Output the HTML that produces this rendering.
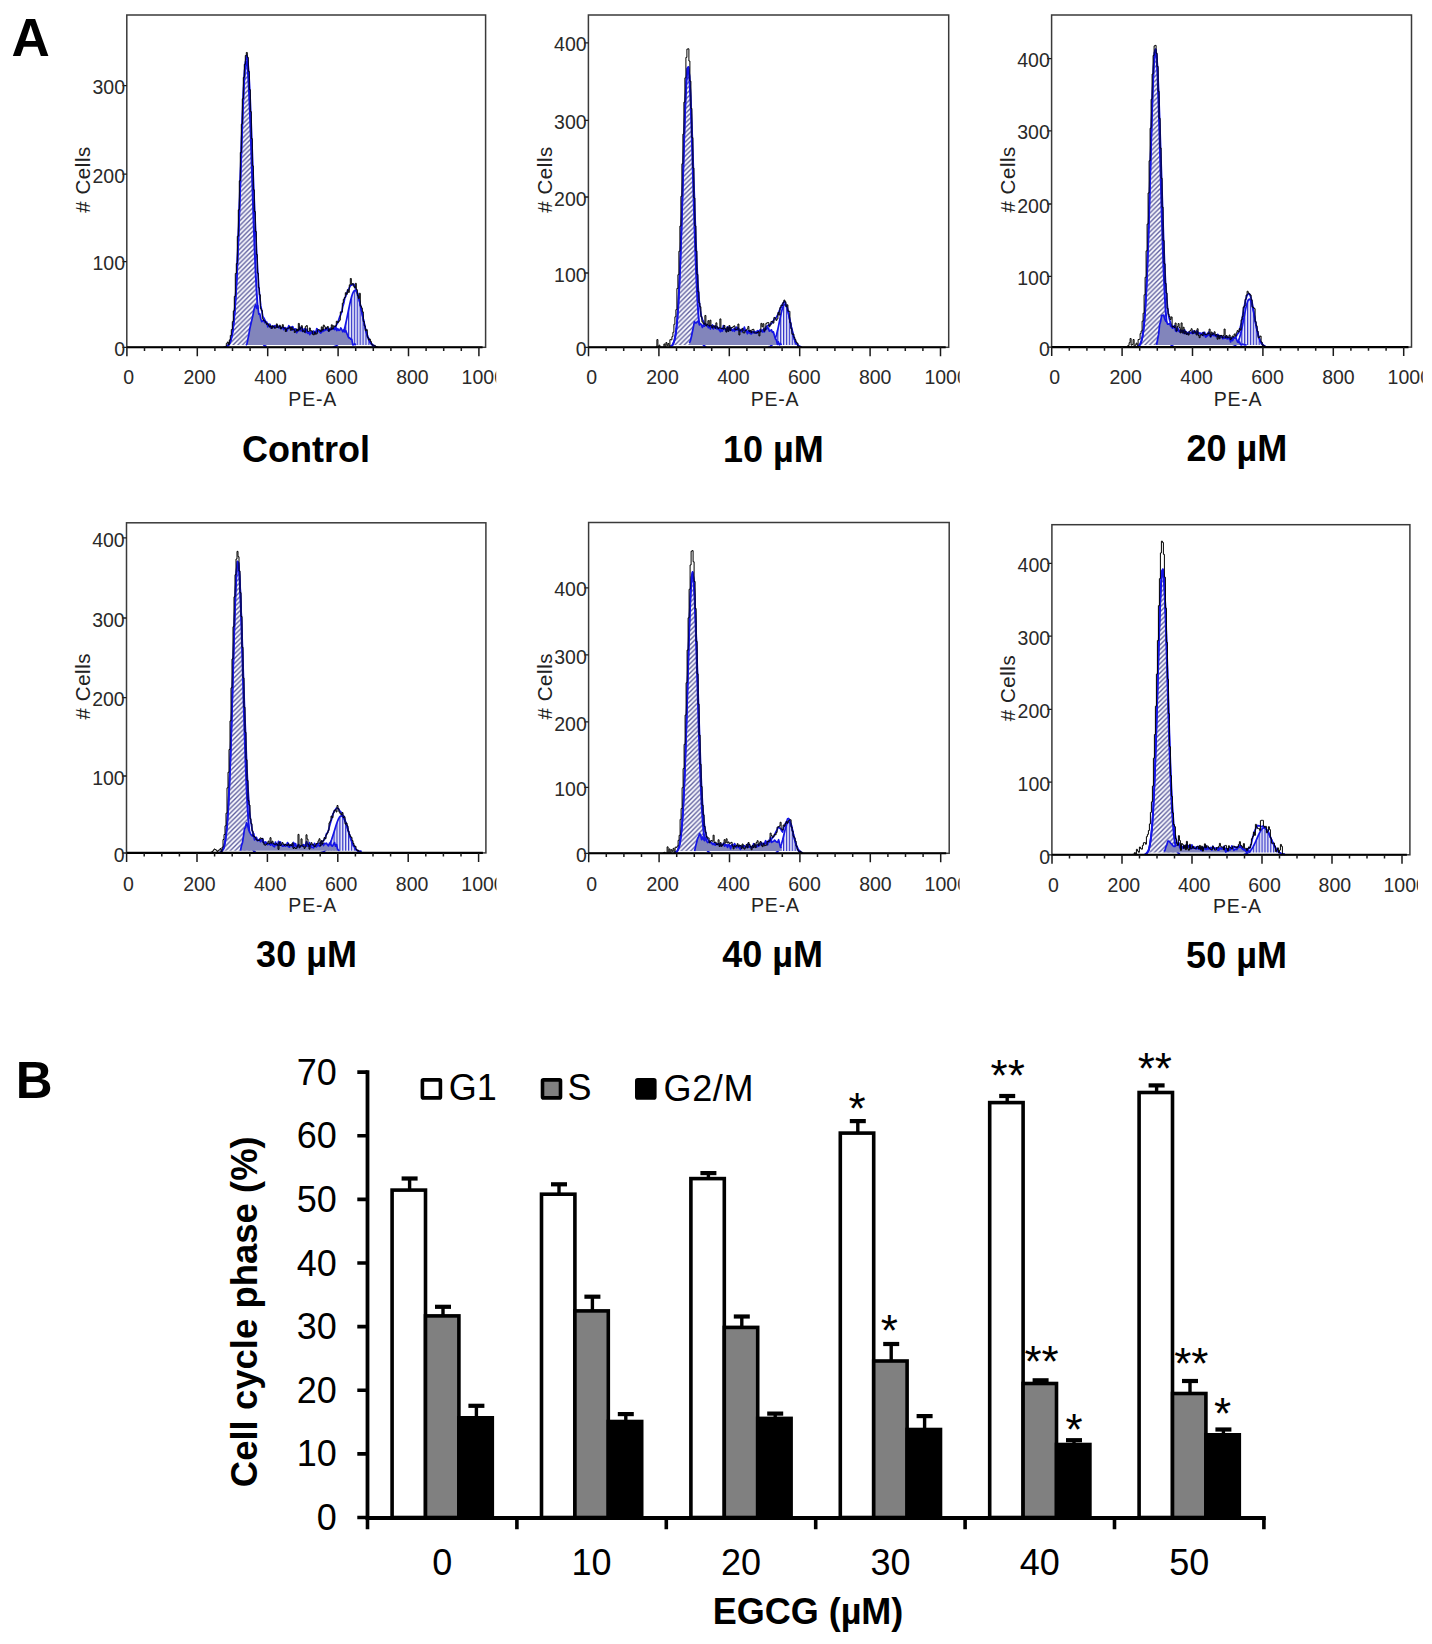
<!DOCTYPE html><html><head><meta charset="utf-8"><style>html,body{margin:0;padding:0;background:#fff;}svg{display:block;}</style></head><body>
<svg width="1432" height="1644" viewBox="0 0 1432 1644" font-family='"Liberation Sans", sans-serif'>
<defs><pattern id="pd" patternUnits="userSpaceOnUse" width="4.7" height="4.7"><rect width="4.7" height="4.7" fill="#fafaff"/><path d="M-1 5.7L5.7 -1M-1 1L1 -1M3.7 5.7L5.7 3.7" stroke="#5c5c9c" stroke-width="1.35"/></pattern><pattern id="pv" patternUnits="userSpaceOnUse" width="2.9" height="10"><rect width="2.9" height="10" fill="#eef0fb"/><rect x="0" width="1.25" height="10" fill="#3434c8"/></pattern></defs>
<rect width="1432" height="1644" fill="#fff"/>
<text x="11.6" y="56.3" font-size="53" font-weight="bold" fill="#000">A</text>
<text x="15.8" y="1098.4" font-size="51" font-weight="bold" fill="#000">B</text>
<clipPath id="cl0"><rect x="66.8" y="10" width="429.4" height="412.3"/></clipPath>
<clipPath id="cp0"><rect x="126.8" y="15" width="358.8" height="332.3"/></clipPath>
<rect x="126.8" y="15" width="358.8" height="332.3" fill="none" stroke="#3a3a3a" stroke-width="1.5"/>
<path d="M225.8 345.1L225.8 345.1L226.8 345.1L227.8 345.1L228.8 344.72L229.8 342.95L230.8 340.19L231.8 336.01L232.8 329.93L233.8 321.38L234.8 309.8L235.8 294.7L236.8 275.74L237.8 252.89L238.8 226.54L239.8 197.5L240.8 167.12L241.8 137.14L242.8 109.61L243.8 86.62L244.8 70.07L245.8 61.4L246.8 61.4L247.8 70.07L248.8 86.62L249.8 109.61L250.8 137.14L251.8 167.12L252.8 197.5L253.8 226.54L254.8 252.89L255.8 275.74L256.8 294.7L257.8 309.8L258.8 321.38L259.8 329.93L260.8 336.01L261.8 340.19L262.8 342.95L263.8 344.72L264.8 345.1L265.8 345.1L266.8 345.1L266.8 345.1Z" fill="url(#pd)"/>
<path d="M225.8 346.85L226.8 346.47L227.8 345.82L228.8 344.72L229.8 342.95L230.8 340.19L231.8 336.01L232.8 329.93L233.8 321.38L234.8 309.8L235.8 294.7L236.8 275.74L237.8 252.89L238.8 226.54L239.8 197.5L240.8 167.12L241.8 137.14L242.8 109.61L243.8 86.62L244.8 70.07L245.8 61.4L246.8 61.4L247.8 70.07L248.8 86.62L249.8 109.61L250.8 137.14L251.8 167.12L252.8 197.5L253.8 226.54L254.8 252.89L255.8 275.74L256.8 294.7L257.8 309.8L258.8 321.38L259.8 329.93L260.8 336.01L261.8 340.19L262.8 342.95L263.8 344.72L264.8 345.82L265.8 346.47L266.8 346.85" fill="none" stroke="#1414e6" stroke-width="2.0" stroke-linejoin="round"/>
<path d="M332.8 345.1L332.8 345.1L333.8 345.1L334.8 345.1L335.8 345.1L336.8 345.1L337.8 344.51L338.8 343.38L339.8 341.9L340.8 340.02L341.8 337.67L342.8 334.82L343.8 331.45L344.8 327.58L345.8 323.27L346.8 318.6L347.8 313.72L348.8 308.79L349.8 304.04L350.8 299.69L351.8 295.96L352.8 293.05L353.8 291.13L354.8 290.32L355.8 290.67L356.8 292.15L357.8 294.68L358.8 298.11L359.8 302.24L360.8 306.86L361.8 311.74L362.8 316.66L363.8 321.44L364.8 325.91L365.8 329.96L366.8 333.53L367.8 336.59L368.8 339.14L369.8 341.2L370.8 342.84L371.8 344.1L372.8 345.05L373.8 345.1L374.8 345.1L375.8 345.1L376.8 345.1L376.8 345.1Z" fill="url(#pv)"/>
<path d="M332.8 346.93L333.8 346.72L334.8 346.41L335.8 345.97L336.8 345.36L337.8 344.51L338.8 343.38L339.8 341.9L340.8 340.02L341.8 337.67L342.8 334.82L343.8 331.45L344.8 327.58L345.8 323.27L346.8 318.6L347.8 313.72L348.8 308.79L349.8 304.04L350.8 299.69L351.8 295.96L352.8 293.05L353.8 291.13L354.8 290.32L355.8 290.67L356.8 292.15L357.8 294.68L358.8 298.11L359.8 302.24L360.8 306.86L361.8 311.74L362.8 316.66L363.8 321.44L364.8 325.91L365.8 329.96L366.8 333.53L367.8 336.59L368.8 339.14L369.8 341.2L370.8 342.84L371.8 344.1L372.8 345.05L373.8 345.75L374.8 346.26L375.8 346.61L376.8 346.85" fill="none" stroke="#1414e6" stroke-width="1.7" stroke-linejoin="round"/>
<path d="M245.8 345.1L245.8 345.1L246.8 344.41L247.8 339.72L248.8 334.69L249.8 328.76L250.8 324.27L251.8 320.12L252.8 315.86L253.8 310.51L254.8 306.86L255.8 304.72L256.8 308.34L257.8 305.91L258.8 314.12L259.8 313.9L260.8 318.98L261.8 321.61L262.8 320.95L263.8 320.29L264.8 322.64L265.8 322.01L266.8 322.08L267.8 326.81L268.8 325.39L269.8 324.39L270.8 327.95L271.8 326.9L272.8 327.38L273.8 327.23L274.8 325.71L275.8 326.74L276.8 325.4L277.8 326.33L278.8 326.73L279.8 327.12L280.8 328.28L281.8 328.54L282.8 327.39L283.8 329.54L284.8 327.59L285.8 328.88L286.8 330.91L287.8 328.59L288.8 325.7L289.8 327.28L290.8 327.9L291.8 327L292.8 326.67L293.8 329.6L294.8 329.74L295.8 328.95L296.8 332.79L297.8 330.04L298.8 330.66L299.8 327.11L300.8 328.13L301.8 327.78L302.8 329.07L303.8 330.28L304.8 328.76L305.8 332.6L306.8 329.23L307.8 333.26L308.8 332.15L309.8 334.56L310.8 332.08L311.8 331.71L312.8 332.02L313.8 331.01L314.8 333.04L315.8 333.09L316.8 328.49L317.8 330.03L318.8 330.45L319.8 332.38L320.8 333.01L321.8 330.93L322.8 331.49L323.8 329.66L324.8 330.55L325.8 328.98L326.8 327.81L327.8 329.42L328.8 331.22L329.8 328.64L330.8 328.26L331.8 328.88L332.8 328.83L333.8 328.79L334.8 329.53L335.8 326.8L336.8 330.6L337.8 328.66L338.8 330.33L339.8 330.26L340.8 327.92L341.8 329.6L342.8 331.75L343.8 329.77L344.8 331.93L345.8 330.76L346.8 333.29L347.8 335.8L348.8 337.97L349.8 337.93L350.8 339.17L351.8 339.33L352.8 344.95L353.8 344.61L354.8 343.87L355.8 345.1L355.8 345.1Z" fill="#8285bb"/>
<path d="M245.8 345.1L246.8 344.41L247.8 339.72L248.8 334.69L249.8 328.76L250.8 324.27L251.8 320.12L252.8 315.86L253.8 310.51L254.8 306.86L255.8 304.72L256.8 308.34L257.8 305.91L258.8 314.12L259.8 313.9L260.8 318.98L261.8 321.61L262.8 320.95L263.8 320.29L264.8 322.64L265.8 322.01L266.8 322.08L267.8 326.81L268.8 325.39L269.8 324.39L270.8 327.95L271.8 326.9L272.8 327.38L273.8 327.23L274.8 325.71L275.8 326.74L276.8 325.4L277.8 326.33L278.8 326.73L279.8 327.12L280.8 328.28L281.8 328.54L282.8 327.39L283.8 329.54L284.8 327.59L285.8 328.88L286.8 330.91L287.8 328.59L288.8 325.7L289.8 327.28L290.8 327.9L291.8 327L292.8 326.67L293.8 329.6L294.8 329.74L295.8 328.95L296.8 332.79L297.8 330.04L298.8 330.66L299.8 327.11L300.8 328.13L301.8 327.78L302.8 329.07L303.8 330.28L304.8 328.76L305.8 332.6L306.8 329.23L307.8 333.26L308.8 332.15L309.8 334.56L310.8 332.08L311.8 331.71L312.8 332.02L313.8 331.01L314.8 333.04L315.8 333.09L316.8 328.49L317.8 330.03L318.8 330.45L319.8 332.38L320.8 333.01L321.8 330.93L322.8 331.49L323.8 329.66L324.8 330.55L325.8 328.98L326.8 327.81L327.8 329.42L328.8 331.22L329.8 328.64L330.8 328.26L331.8 328.88L332.8 328.83L333.8 328.79L334.8 329.53L335.8 326.8L336.8 330.6L337.8 328.66L338.8 330.33L339.8 330.26L340.8 327.92L341.8 329.6L342.8 331.75L343.8 329.77L344.8 331.93L345.8 330.76L346.8 333.29L347.8 335.8L348.8 337.97L349.8 337.93L350.8 339.17L351.8 339.33L352.8 344.95L353.8 344.61L354.8 343.87L355.8 345.1" fill="none" stroke="#1414e6" stroke-width="1.7" stroke-linejoin="round"/>
<path d="M225.8 346.95L226.8 346.6L227.8 345.28L228.8 344.46L229.8 342.74L230.8 340.39L231.8 335.91L232.8 330.96L233.8 321.67L234.8 309.09L235.8 294.41L236.8 276.13L237.8 253.14L238.8 227.32L239.8 198.32L240.8 167.67L241.8 136.13L242.8 110.38L243.8 86.9L244.8 70.2L245.8 60.07L246.8 55.27L247.8 60.61L248.8 72.31L249.8 89.78L250.8 113.3L251.8 139.12L252.8 165.36L253.8 189.74L254.8 212.49L255.8 233.75L256.8 255.11L257.8 271.45L258.8 286.38L259.8 297.45L260.8 305.91L261.8 310.81L262.8 316.34L263.8 317.92L264.8 319.93L265.8 321.87L266.8 323.95L267.8 324.31L268.8 325.38L269.8 324.34L270.8 326.76L271.8 327.05L272.8 325.9L273.8 326.9L274.8 326.63L275.8 326.99L276.8 326.76L277.8 326.05L278.8 327.91L279.8 326.86L280.8 327.05L281.8 327.87L282.8 327.68L283.8 328.07L284.8 327.75L285.8 328.27L286.8 328.46L287.8 328.37L288.8 328.22L289.8 328.18L290.8 328.93L291.8 329.9L292.8 329.84L293.8 329.24L294.8 329.06L295.8 329.94L296.8 329.76L297.8 330.09L298.8 330.06L299.8 330.32L300.8 330.87L301.8 329.68L302.8 331.53L303.8 331.08L304.8 331L305.8 330.62L306.8 332.14L307.8 332.23L308.8 332.31L309.8 332.47L310.8 332.5L311.8 332.96L312.8 333.46L313.8 332.88L314.8 333.14L315.8 331.33L316.8 331.98L317.8 331.18L318.8 331.13L319.8 331.38L320.8 330.37L321.8 330.45L322.8 329.6L323.8 330.44L324.8 329.49L325.8 329.34L326.8 329.77L327.8 330.07L328.8 329.39L329.8 330.05L330.8 328.6L331.8 329.02L332.8 328.85L333.8 328.08L334.8 327.39L335.8 325.88L336.8 324.36L337.8 322.59L338.8 319.41L339.8 316.52L340.8 314.56L341.8 311.74L342.8 306.45L343.8 303.18L344.8 298.03L345.8 296.38L346.8 292.77L347.8 290.5L348.8 288.91L349.8 286.82L350.8 285.05L351.8 285.11L352.8 284.4L353.8 284.27L354.8 286.1L355.8 288.87L356.8 291.18L357.8 293.8L358.8 298.35L359.8 302.2L360.8 307.84L361.8 311.7L362.8 317.22L363.8 321.44L364.8 326.62L365.8 330.38L366.8 334.1L367.8 337.18L368.8 338.75L369.8 341.99L370.8 343.71L371.8 343.9L372.8 346L373.8 345.65L374.8 347.17L375.8 346.98L376.8 347.14" fill="none" stroke="#1414e6" stroke-width="1.7" stroke-linejoin="round"/>
<path d="M223.3 347.3L223.3 347.07L224.3 347.07L224.3 346.85L225.3 346.85L225.3 346.46L226.3 346.46L226.3 343.45L227.3 343.45L227.3 342.01L228.3 342.01L228.3 344.74L229.3 344.74L229.3 339.89L230.3 339.89L230.3 335.41L231.3 335.41L231.3 329.57L232.3 329.57L232.3 321.64L233.3 321.64L233.3 310.96L234.3 310.96L234.3 296.44L235.3 296.44L235.3 273.47L236.3 273.47L236.3 263.56L237.3 263.56L237.3 236.27L238.3 236.27L238.3 209.82L239.3 209.82L239.3 180.78L240.3 180.78L240.3 152.43L241.3 152.43L241.3 124.17L242.3 124.17L242.3 98.81L243.3 98.81L243.3 77.38L244.3 77.38L244.3 64.34L245.3 64.34L245.3 55.52L246.3 55.52L246.3 52.46L247.3 52.46L247.3 57.26L248.3 57.26L248.3 71.33L249.3 71.33L249.3 89.59L250.3 89.59L250.3 111.61L251.3 111.61L251.3 138.59L252.3 138.59L252.3 165.86L253.3 165.86L253.3 189.78L254.3 189.78L254.3 211.46L255.3 211.46L255.3 231.42L256.3 231.42L256.3 254.38L257.3 254.38L257.3 273.05L258.3 273.05L258.3 287.7L259.3 287.7L259.3 294.68L260.3 294.68L260.3 308.61L261.3 308.61L261.3 310.3L262.3 310.3L262.3 318.85L263.3 318.85L263.3 320.42L264.3 320.42L264.3 321L265.3 321L265.3 322.52L266.3 322.52L266.3 324.29L267.3 324.29L267.3 323.58L268.3 323.58L268.3 325.66L269.3 325.66L269.3 327.07L270.3 327.07L270.3 325.76L271.3 325.76L271.3 328.53L272.3 328.53L272.3 325.98L273.3 325.98L273.3 326.53L274.3 326.53L274.3 328.25L275.3 328.25L275.3 327.87L276.3 327.87L276.3 323.92L277.3 323.92L277.3 327.46L278.3 327.46L278.3 326.99L279.3 326.99L279.3 325.21L280.3 325.21L280.3 328.89L281.3 328.89L281.3 327.3L282.3 327.3L282.3 324.67L283.3 324.67L283.3 327.85L284.3 327.85L284.3 328.31L285.3 328.31L285.3 331.54L286.3 331.54L286.3 328.97L287.3 328.97L287.3 328.3L288.3 328.3L288.3 328.06L289.3 328.06L289.3 326.84L290.3 326.84L290.3 330.3L291.3 330.3L291.3 327.31L292.3 327.31L292.3 329.67L293.3 329.67L293.3 329.24L294.3 329.24L294.3 332.54L295.3 332.54L295.3 331.37L296.3 331.37L296.3 329.1L297.3 329.1L297.3 331.02L298.3 331.02L298.3 323.42L299.3 323.42L299.3 329.8L300.3 329.8L300.3 328.12L301.3 328.12L301.3 325.69L302.3 325.69L302.3 331.35L303.3 331.35L303.3 330.71L304.3 330.71L304.3 332.36L305.3 332.36L305.3 326.58L306.3 326.58L306.3 325.54L307.3 325.54L307.3 331.23L308.3 331.23L308.3 331.48L309.3 331.48L309.3 327.94L310.3 327.94L310.3 331L311.3 331L311.3 330.77L312.3 330.77L312.3 334.21L313.3 334.21L313.3 334.9L314.3 334.9L314.3 331.87L315.3 331.87L315.3 334.23L316.3 334.23L316.3 333.66L317.3 333.66L317.3 330L318.3 330L318.3 329.67L319.3 329.67L319.3 330.18L320.3 330.18L320.3 331.61L321.3 331.61L321.3 326.89L322.3 326.89L322.3 330.22L323.3 330.22L323.3 325.09L324.3 325.09L324.3 326.73L325.3 326.73L325.3 329.09L326.3 329.09L326.3 328.06L327.3 328.06L327.3 326.47L328.3 326.47L328.3 331.28L329.3 331.28L329.3 329.45L330.3 329.45L330.3 329.99L331.3 329.99L331.3 324.82L332.3 324.82L332.3 328.92L333.3 328.92L333.3 325.75L334.3 325.75L334.3 326.72L335.3 326.72L335.3 326.1L336.3 326.1L336.3 321.27L337.3 321.27L337.3 322.73L338.3 322.73L338.3 321.64L339.3 321.64L339.3 320.26L340.3 320.26L340.3 311.89L341.3 311.89L341.3 312.12L342.3 312.12L342.3 303.13L343.3 303.13L343.3 299.37L344.3 299.37L344.3 297.55L345.3 297.55L345.3 292.73L346.3 292.73L346.3 294.33L347.3 294.33L347.3 289.72L348.3 289.72L348.3 292.43L349.3 292.43L349.3 284.84L350.3 284.84L350.3 278.49L351.3 278.49L351.3 284.34L352.3 284.34L352.3 283.53L353.3 283.53L353.3 286.21L354.3 286.21L354.3 287.8L355.3 287.8L355.3 283.33L356.3 283.33L356.3 289.62L357.3 289.62L357.3 295.7L358.3 295.7L358.3 298.38L359.3 298.38L359.3 293.28L360.3 293.28L360.3 306.03L361.3 306.03L361.3 307.89L362.3 307.89L362.3 311.84L363.3 311.84L363.3 321.57L364.3 321.57L364.3 325.93L365.3 325.93L365.3 330.8L366.3 330.8L366.3 329.66L367.3 329.66L367.3 337.32L368.3 337.32L368.3 339.95L369.3 339.95L369.3 339.03L370.3 339.03L370.3 341.34L371.3 341.34L371.3 344.26L372.3 344.26L372.3 345.3L373.3 345.3L373.3 345.15L374.3 345.15L374.3 345.4L375.3 345.4L375.3 346.61L376.3 346.61L376.3 346.85L377.3 346.85L377.3 347.02L378.3 347.02L378.3 347.3" fill="none" stroke="#000" stroke-width="1.0"/>
<line x1="126.8" y1="347.3" x2="482.6" y2="347.3" stroke="#000" stroke-width="2.1"/>
<path d="M126.9 347.3V356.3M144.5 347.3V350.9M162.1 347.3V350.9M179.7 347.3V350.9M197.3 347.3V356.3M214.9 347.3V350.9M232.5 347.3V350.9M250.1 347.3V350.9M267.7 347.3V356.3M285.3 347.3V350.9M302.9 347.3V350.9M320.5 347.3V350.9M338.1 347.3V356.3M355.7 347.3V350.9M373.3 347.3V350.9M390.9 347.3V350.9M408.5 347.3V356.3M426.1 347.3V350.9M443.7 347.3V350.9M461.3 347.3V350.9M478.9 347.3V356.3" stroke="#1a1a1a" stroke-width="1.5" fill="none"/>
<path d="M122.5 347.4H126.8M122.5 261.6H126.8M122.5 174.2H126.8M122.5 85.6H126.8" stroke="#1a1a1a" stroke-width="1.3" fill="none"/>
<g clip-path="url(#cl0)" font-size="19.5" fill="#2a2a2a" text-anchor="middle"><text x="128.8" y="383.9">0</text><text x="199.7" y="383.9">200</text><text x="270.6" y="383.9">400</text><text x="341.5" y="383.9">600</text><text x="412.4" y="383.9">800</text><text x="483.3" y="383.9">1000</text></g>
<g font-size="19.5" fill="#2a2a2a" text-anchor="end"><text x="125" y="356">0</text><text x="125" y="270.2">100</text><text x="125" y="182.8">200</text><text x="125" y="94.2">300</text></g>
<text x="312.7" y="405.9" font-size="19.5" letter-spacing="0.8" fill="#222" text-anchor="middle">PE-A</text>
<text transform="translate(90 179.45) rotate(-90)" font-size="20.5" letter-spacing="0.55" fill="#222" text-anchor="middle"># Cells</text>
<text x="306" y="461.6" font-size="36" font-weight="bold" fill="#000" text-anchor="middle">Control</text>
<clipPath id="cl1"><rect x="528.4" y="10" width="431.3" height="412.3"/></clipPath>
<clipPath id="cp1"><rect x="588.4" y="15" width="360.3" height="332.3"/></clipPath>
<rect x="588.4" y="15" width="360.3" height="332.3" fill="none" stroke="#3a3a3a" stroke-width="1.5"/>
<path d="M670.4 345.1L670.4 345.1L671.4 345.1L672.4 345.1L673.4 343.34L674.4 340.35L675.4 335.56L676.4 328.25L677.4 317.6L678.4 302.81L679.4 283.28L680.4 258.79L681.4 229.72L682.4 197.22L683.4 163.26L684.4 130.46L685.4 101.83L686.4 80.33L687.4 68.32L688.4 67.2L689.4 77.1L690.4 96.88L691.4 124.3L692.4 156.51L693.4 190.47L694.4 223.44L695.4 253.31L696.4 278.78L697.4 299.3L698.4 315L699.4 326.41L700.4 334.32L701.4 339.55L702.4 342.86L703.4 344.85L704.4 345.1L705.4 345.1L706.4 345.1L706.4 345.1Z" fill="url(#pd)"/>
<path d="M670.4 346.73L671.4 346.16L672.4 345.14L673.4 343.34L674.4 340.35L675.4 335.56L676.4 328.25L677.4 317.6L678.4 302.81L679.4 283.28L680.4 258.79L681.4 229.72L682.4 197.22L683.4 163.26L684.4 130.46L685.4 101.83L686.4 80.33L687.4 68.32L688.4 67.2L689.4 77.1L690.4 96.88L691.4 124.3L692.4 156.51L693.4 190.47L694.4 223.44L695.4 253.31L696.4 278.78L697.4 299.3L698.4 315L699.4 326.41L700.4 334.32L701.4 339.55L702.4 342.86L703.4 344.85L704.4 346L705.4 346.64L706.4 346.98" fill="none" stroke="#1414e6" stroke-width="2.0" stroke-linejoin="round"/>
<path d="M768.4 345.1L768.4 345.1L769.4 345.1L770.4 345.1L771.4 345.1L772.4 344.51L773.4 343.05L774.4 341.03L775.4 338.38L776.4 335.05L777.4 331.08L778.4 326.56L779.4 321.71L780.4 316.83L781.4 312.3L782.4 308.49L783.4 305.77L784.4 304.42L785.4 304.57L786.4 306.22L787.4 309.17L788.4 313.16L789.4 317.8L790.4 322.69L791.4 327.5L792.4 331.92L793.4 335.77L794.4 338.96L795.4 341.48L796.4 343.38L797.4 344.75L798.4 345.1L799.4 345.1L800.4 345.1L801.4 345.1L801.4 345.1Z" fill="url(#pv)"/>
<path d="M768.4 346.94L769.4 346.67L770.4 346.23L771.4 345.54L772.4 344.51L773.4 343.05L774.4 341.03L775.4 338.38L776.4 335.05L777.4 331.08L778.4 326.56L779.4 321.71L780.4 316.83L781.4 312.3L782.4 308.49L783.4 305.77L784.4 304.42L785.4 304.57L786.4 306.22L787.4 309.17L788.4 313.16L789.4 317.8L790.4 322.69L791.4 327.5L792.4 331.92L793.4 335.77L794.4 338.96L795.4 341.48L796.4 343.38L797.4 344.75L798.4 345.7L799.4 346.33L800.4 346.73L801.4 346.98" fill="none" stroke="#1414e6" stroke-width="1.7" stroke-linejoin="round"/>
<path d="M689.4 345.1L689.4 342.99L690.4 340.84L691.4 336.8L692.4 331.73L693.4 326.92L694.4 321.69L695.4 322.8L696.4 322.89L697.4 321.4L698.4 321.44L699.4 324.87L700.4 323.54L701.4 324.75L702.4 327.38L703.4 324.88L704.4 326.21L705.4 323.71L706.4 325.48L707.4 325.48L708.4 327.73L709.4 325.79L710.4 329.03L711.4 326.31L712.4 325.01L713.4 328.95L714.4 326.37L715.4 325.92L716.4 328.48L717.4 326.95L718.4 328.69L719.4 329.54L720.4 331.7L721.4 330.44L722.4 331.05L723.4 325.67L724.4 328.69L725.4 329.34L726.4 331.03L727.4 326.76L728.4 330.84L729.4 327.17L730.4 327.77L731.4 329.24L732.4 330.3L733.4 329.48L734.4 331.32L735.4 328.59L736.4 327.18L737.4 328.33L738.4 328.21L739.4 330.83L740.4 329.58L741.4 331.61L742.4 330.97L743.4 329.48L744.4 327.15L745.4 330.73L746.4 330.94L747.4 333.81L748.4 331.07L749.4 332.75L750.4 333.61L751.4 333.89L752.4 331.77L753.4 332.69L754.4 331.34L755.4 332.79L756.4 332.63L757.4 330.73L758.4 331.26L759.4 330.85L760.4 329.4L761.4 330.7L762.4 331.94L763.4 331.21L764.4 331.83L765.4 328.68L766.4 329.28L767.4 327.66L768.4 328.02L769.4 331.13L770.4 330.54L771.4 329.82L772.4 332.3L773.4 331.91L774.4 335.58L775.4 338.86L776.4 340.07L777.4 344.32L778.4 341.9L779.4 344.84L780.4 343.45L781.4 345.1L781.4 345.1Z" fill="#8285bb"/>
<path d="M689.4 342.99L690.4 340.84L691.4 336.8L692.4 331.73L693.4 326.92L694.4 321.69L695.4 322.8L696.4 322.89L697.4 321.4L698.4 321.44L699.4 324.87L700.4 323.54L701.4 324.75L702.4 327.38L703.4 324.88L704.4 326.21L705.4 323.71L706.4 325.48L707.4 325.48L708.4 327.73L709.4 325.79L710.4 329.03L711.4 326.31L712.4 325.01L713.4 328.95L714.4 326.37L715.4 325.92L716.4 328.48L717.4 326.95L718.4 328.69L719.4 329.54L720.4 331.7L721.4 330.44L722.4 331.05L723.4 325.67L724.4 328.69L725.4 329.34L726.4 331.03L727.4 326.76L728.4 330.84L729.4 327.17L730.4 327.77L731.4 329.24L732.4 330.3L733.4 329.48L734.4 331.32L735.4 328.59L736.4 327.18L737.4 328.33L738.4 328.21L739.4 330.83L740.4 329.58L741.4 331.61L742.4 330.97L743.4 329.48L744.4 327.15L745.4 330.73L746.4 330.94L747.4 333.81L748.4 331.07L749.4 332.75L750.4 333.61L751.4 333.89L752.4 331.77L753.4 332.69L754.4 331.34L755.4 332.79L756.4 332.63L757.4 330.73L758.4 331.26L759.4 330.85L760.4 329.4L761.4 330.7L762.4 331.94L763.4 331.21L764.4 331.83L765.4 328.68L766.4 329.28L767.4 327.66L768.4 328.02L769.4 331.13L770.4 330.54L771.4 329.82L772.4 332.3L773.4 331.91L774.4 335.58L775.4 338.86L776.4 340.07L777.4 344.32L778.4 341.9L779.4 344.84L780.4 343.45L781.4 345.1" fill="none" stroke="#1414e6" stroke-width="1.7" stroke-linejoin="round"/>
<path d="M670.4 346.66L671.4 345.99L672.4 345.24L673.4 343.15L674.4 340.73L675.4 336.1L676.4 328.96L677.4 317.88L678.4 303.23L679.4 283.16L680.4 258.97L681.4 230.05L682.4 197.59L683.4 164.22L684.4 130.65L685.4 101.63L686.4 81L687.4 68.45L688.4 66.86L689.4 75.59L690.4 90.25L691.4 113.32L692.4 139.36L693.4 169.07L694.4 197.36L695.4 226.77L696.4 252.41L697.4 274.2L698.4 290.47L699.4 302.85L700.4 310.64L701.4 316.59L702.4 319.6L703.4 321.1L704.4 324.08L705.4 324.94L706.4 324.6L707.4 324.87L708.4 325.8L709.4 325.66L710.4 326.07L711.4 326.33L712.4 326.23L713.4 327.58L714.4 327.23L715.4 327.78L716.4 328.55L717.4 328.26L718.4 329.46L719.4 329.6L720.4 328.34L721.4 329.49L722.4 328.11L723.4 328.48L724.4 329.31L725.4 329.54L726.4 330.26L727.4 329.21L728.4 330.05L729.4 328.46L730.4 330.15L731.4 329.3L732.4 330.77L733.4 329.6L734.4 328.78L735.4 329.73L736.4 329.96L737.4 329.82L738.4 329.49L739.4 329.39L740.4 330.13L741.4 331.22L742.4 330.18L743.4 330L744.4 329.49L745.4 330.74L746.4 330.9L747.4 331.43L748.4 330.93L749.4 330.58L750.4 332.15L751.4 331.77L752.4 332.5L753.4 332.48L754.4 332.39L755.4 332.21L756.4 333.05L757.4 332.93L758.4 331.67L759.4 331.63L760.4 331.04L761.4 330.67L762.4 330.4L763.4 329.45L764.4 328.66L765.4 328.07L766.4 326.5L767.4 325.91L768.4 325.22L769.4 325.17L770.4 324.02L771.4 323.65L772.4 322.2L773.4 320.83L774.4 318.92L775.4 318.41L776.4 317.42L777.4 315.51L778.4 313.67L779.4 310.54L780.4 308.35L781.4 306.94L782.4 304.22L783.4 302.88L784.4 301.26L785.4 303.25L786.4 305.39L787.4 307.93L788.4 312.71L789.4 318.21L790.4 322.42L791.4 327.8L792.4 331L793.4 336.29L794.4 339.33L795.4 342.88L796.4 343.73L797.4 343.79L798.4 345.77L799.4 346.83L800.4 346.59L801.4 347.13" fill="none" stroke="#1414e6" stroke-width="1.7" stroke-linejoin="round"/>
<path d="M655.9 347.3L655.9 346.81L656.9 346.81L656.9 339.55L657.9 339.55L657.9 346.68L658.9 346.68L658.9 345.14L659.9 345.14L659.9 347.3L660.9 347.3L660.9 347.14L661.9 347.14L661.9 347.3L662.9 347.3L662.9 347.3L663.9 347.3L663.9 343.97L664.9 343.97L664.9 346.84L665.9 346.84L665.9 342.57L666.9 342.57L666.9 345.38L667.9 345.38L667.9 343.54L668.9 343.54L668.9 346.1L669.9 346.1L669.9 339.65L670.9 339.65L670.9 339.85L671.9 339.85L671.9 336.62L672.9 336.62L672.9 332.28L673.9 332.28L673.9 324.27L674.9 324.27L674.9 316.77L675.9 316.77L675.9 309.63L676.9 309.63L676.9 288.43L677.9 288.43L677.9 274.68L678.9 274.68L678.9 251.21L679.9 251.21L679.9 226.06L680.9 226.06L680.9 196.3L681.9 196.3L681.9 163.79L682.9 163.79L682.9 134.14L683.9 134.14L683.9 102.13L684.9 102.13L684.9 77.83L685.9 77.83L685.9 57.4L686.9 57.4L686.9 49.1L687.9 49.1L687.9 48.8L688.9 48.8L688.9 61.04L689.9 61.04L689.9 81.15L690.9 81.15L690.9 108.42L691.9 108.42L691.9 137.67L692.9 137.67L692.9 168.03L693.9 168.03L693.9 198L694.9 198L694.9 225.95L695.9 225.95L695.9 251.04L696.9 251.04L696.9 274.41L697.9 274.41L697.9 291.68L698.9 291.68L698.9 303.01L699.9 303.01L699.9 306.78L700.9 306.78L700.9 316.78L701.9 316.78L701.9 321.8L702.9 321.8L702.9 323.32L703.9 323.32L703.9 324.21L704.9 324.21L704.9 315.46L705.9 315.46L705.9 325.87L706.9 325.87L706.9 324.3L707.9 324.3L707.9 320.66L708.9 320.66L708.9 326.14L709.9 326.14L709.9 320.14L710.9 320.14L710.9 325.79L711.9 325.79L711.9 328L712.9 328L712.9 325.79L713.9 325.79L713.9 326.23L714.9 326.23L714.9 328.23L715.9 328.23L715.9 322.85L716.9 322.85L716.9 327.14L717.9 327.14L717.9 328.62L718.9 328.62L718.9 327.73L719.9 327.73L719.9 318.92L720.9 318.92L720.9 328.64L721.9 328.64L721.9 328.57L722.9 328.57L722.9 329.05L723.9 329.05L723.9 325.46L724.9 325.46L724.9 328.79L725.9 328.79L725.9 332.07L726.9 332.07L726.9 327.34L727.9 327.34L727.9 331.35L728.9 331.35L728.9 325.62L729.9 325.62L729.9 330.62L730.9 330.62L730.9 327.67L731.9 327.67L731.9 327.66L732.9 327.66L732.9 326.59L733.9 326.59L733.9 325.87L734.9 325.87L734.9 329.8L735.9 329.8L735.9 329.37L736.9 329.37L736.9 329.14L737.9 329.14L737.9 324.02L738.9 324.02L738.9 334.99L739.9 334.99L739.9 330.28L740.9 330.28L740.9 329.96L741.9 329.96L741.9 328.39L742.9 328.39L742.9 332.79L743.9 332.79L743.9 332.93L744.9 332.93L744.9 330.58L745.9 330.58L745.9 329.96L746.9 329.96L746.9 328.94L747.9 328.94L747.9 326.46L748.9 326.46L748.9 331.33L749.9 331.33L749.9 330.39L750.9 330.39L750.9 332.75L751.9 332.75L751.9 329.57L752.9 329.57L752.9 329.3L753.9 329.3L753.9 332.96L754.9 332.96L754.9 332.96L755.9 332.96L755.9 332.9L756.9 332.9L756.9 332.44L757.9 332.44L757.9 331.64L758.9 331.64L758.9 335.92L759.9 335.92L759.9 331.88L760.9 331.88L760.9 323.37L761.9 323.37L761.9 326.79L762.9 326.79L762.9 323.73L763.9 323.73L763.9 331.19L764.9 331.19L764.9 329.29L765.9 329.29L765.9 323.35L766.9 323.35L766.9 322.69L767.9 322.69L767.9 322.66L768.9 322.66L768.9 326.79L769.9 326.79L769.9 325.17L770.9 325.17L770.9 321.58L771.9 321.58L771.9 321.35L772.9 321.35L772.9 323.12L773.9 323.12L773.9 317.44L774.9 317.44L774.9 318.18L775.9 318.18L775.9 320.37L776.9 320.37L776.9 318.93L777.9 318.93L777.9 312.38L778.9 312.38L778.9 315.03L779.9 315.03L779.9 307.46L780.9 307.46L780.9 305.2L781.9 305.2L781.9 305.38L782.9 305.38L782.9 302.54L783.9 302.54L783.9 300.09L784.9 300.09L784.9 301.76L785.9 301.76L785.9 306.77L786.9 306.77L786.9 304.83L787.9 304.83L787.9 311.21L788.9 311.21L788.9 311.29L789.9 311.29L789.9 322.72L790.9 322.72L790.9 328.71L791.9 328.71L791.9 334.26L792.9 334.26L792.9 334.04L793.9 334.04L793.9 337.5L794.9 337.5L794.9 339.69L795.9 339.69L795.9 342.15L796.9 342.15L796.9 343.17L797.9 343.17L797.9 346.93L798.9 346.93L798.9 346.33L799.9 346.33L799.9 346.73L800.9 346.73L800.9 346.98L801.9 346.98L801.9 347.3" fill="none" stroke="#000" stroke-width="1.0"/>
<line x1="588.4" y1="347.3" x2="945.7" y2="347.3" stroke="#000" stroke-width="2.1"/>
<path d="M588.5 347.3V356.3M606.1 347.3V350.9M623.7 347.3V350.9M641.3 347.3V350.9M658.9 347.3V356.3M676.5 347.3V350.9M694.1 347.3V350.9M711.7 347.3V350.9M729.3 347.3V356.3M746.9 347.3V350.9M764.5 347.3V350.9M782.1 347.3V350.9M799.7 347.3V356.3M817.3 347.3V350.9M834.9 347.3V350.9M852.5 347.3V350.9M870.1 347.3V356.3M887.7 347.3V350.9M905.3 347.3V350.9M922.9 347.3V350.9M940.5 347.3V356.3" stroke="#1a1a1a" stroke-width="1.5" fill="none"/>
<path d="M584.1 347.4H588.4M584.1 273H588.4M584.1 197H588.4M584.1 120.3H588.4M584.1 42.8H588.4" stroke="#1a1a1a" stroke-width="1.3" fill="none"/>
<g clip-path="url(#cl1)" font-size="19.5" fill="#2a2a2a" text-anchor="middle"><text x="591.6" y="384.2">0</text><text x="662.5" y="384.2">200</text><text x="733.4" y="384.2">400</text><text x="804.3" y="384.2">600</text><text x="875.2" y="384.2">800</text><text x="946.1" y="384.2">1000</text></g>
<g font-size="19.5" fill="#2a2a2a" text-anchor="end"><text x="586.6" y="356">0</text><text x="586.6" y="281.6">100</text><text x="586.6" y="205.6">200</text><text x="586.6" y="128.9">300</text><text x="586.6" y="51.4">400</text></g>
<text x="775.05" y="405.9" font-size="19.5" letter-spacing="0.8" fill="#222" text-anchor="middle">PE-A</text>
<text transform="translate(551.6 179.45) rotate(-90)" font-size="20.5" letter-spacing="0.55" fill="#222" text-anchor="middle"># Cells</text>
<text x="773.3" y="462.1" font-size="36" font-weight="bold" fill="#000" text-anchor="middle">10 µM</text>
<clipPath id="cl2"><rect x="991.6" y="10" width="431.2" height="412.1"/></clipPath>
<clipPath id="cp2"><rect x="1051.6" y="15" width="359.9" height="332.1"/></clipPath>
<rect x="1051.6" y="15" width="359.9" height="332.1" fill="none" stroke="#3a3a3a" stroke-width="1.5"/>
<path d="M1137.6 344.9L1137.6 344.9L1138.6 344.9L1139.6 344.9L1140.6 343.37L1141.6 340.49L1142.6 335.85L1143.6 328.7L1144.6 318.19L1145.6 303.45L1146.6 283.77L1147.6 258.84L1148.6 228.91L1149.6 195.04L1150.6 159.13L1151.6 123.85L1152.6 92.35L1153.6 67.8L1154.6 52.89L1155.6 49.34L1156.6 57.56L1157.6 76.59L1158.6 104.29L1159.6 137.69L1160.6 173.58L1161.6 208.96L1162.6 241.43L1163.6 269.44L1164.6 292.27L1165.6 309.9L1166.6 322.85L1167.6 331.92L1168.6 337.96L1169.6 341.82L1170.6 344.17L1171.6 344.9L1172.6 344.9L1173.6 344.9L1173.6 344.9Z" fill="url(#pd)"/>
<path d="M1137.6 346.57L1138.6 346.05L1139.6 345.08L1140.6 343.37L1141.6 340.49L1142.6 335.85L1143.6 328.7L1144.6 318.19L1145.6 303.45L1146.6 283.77L1147.6 258.84L1148.6 228.91L1149.6 195.04L1150.6 159.13L1151.6 123.85L1152.6 92.35L1153.6 67.8L1154.6 52.89L1155.6 49.34L1156.6 57.56L1157.6 76.59L1158.6 104.29L1159.6 137.69L1160.6 173.58L1161.6 208.96L1162.6 241.43L1163.6 269.44L1164.6 292.27L1165.6 309.9L1166.6 322.85L1167.6 331.92L1168.6 337.96L1169.6 341.82L1170.6 344.17L1171.6 345.53L1172.6 346.3L1173.6 346.7" fill="none" stroke="#1414e6" stroke-width="2.0" stroke-linejoin="round"/>
<path d="M1232.6 344.9L1232.6 344.9L1233.6 344.9L1234.6 344.9L1235.6 344.9L1236.6 344.08L1237.6 342.51L1238.6 340.36L1239.6 337.54L1240.6 333.99L1241.6 329.73L1242.6 324.87L1243.6 319.6L1244.6 314.23L1245.6 309.14L1246.6 304.74L1247.6 301.42L1248.6 299.5L1249.6 299.17L1250.6 300.47L1251.6 303.26L1252.6 307.28L1253.6 312.14L1254.6 317.45L1255.6 322.8L1256.6 327.85L1257.6 332.37L1258.6 336.21L1259.6 339.32L1260.6 341.73L1261.6 343.51L1262.6 344.79L1263.6 344.9L1264.6 344.9L1265.6 344.9L1265.6 344.9Z" fill="url(#pv)"/>
<path d="M1232.6 346.7L1233.6 346.4L1234.6 345.92L1235.6 345.18L1236.6 344.08L1237.6 342.51L1238.6 340.36L1239.6 337.54L1240.6 333.99L1241.6 329.73L1242.6 324.87L1243.6 319.6L1244.6 314.23L1245.6 309.14L1246.6 304.74L1247.6 301.42L1248.6 299.5L1249.6 299.17L1250.6 300.47L1251.6 303.26L1252.6 307.28L1253.6 312.14L1254.6 317.45L1255.6 322.8L1256.6 327.85L1257.6 332.37L1258.6 336.21L1259.6 339.32L1260.6 341.73L1261.6 343.51L1262.6 344.79L1263.6 345.66L1264.6 346.23L1265.6 346.6" fill="none" stroke="#1414e6" stroke-width="1.7" stroke-linejoin="round"/>
<path d="M1156.6 344.9L1156.6 344.9L1157.6 339.53L1158.6 334.2L1159.6 324.8L1160.6 321.62L1161.6 315.63L1162.6 315.37L1163.6 315.1L1164.6 318.46L1165.6 321L1166.6 321.7L1167.6 324.19L1168.6 324.23L1169.6 323.34L1170.6 325.86L1171.6 326.78L1172.6 328.19L1173.6 326.8L1174.6 325.68L1175.6 330.92L1176.6 331.37L1177.6 327.74L1178.6 330.14L1179.6 331.68L1180.6 331.53L1181.6 330.87L1182.6 330.44L1183.6 333.34L1184.6 329.76L1185.6 333.46L1186.6 333.18L1187.6 334.24L1188.6 333.03L1189.6 332.79L1190.6 332.75L1191.6 332.81L1192.6 331.34L1193.6 331.05L1194.6 332.45L1195.6 332.98L1196.6 330.9L1197.6 331.66L1198.6 333.32L1199.6 333.28L1200.6 333.27L1201.6 334.35L1202.6 332.69L1203.6 335.7L1204.6 332.28L1205.6 337.13L1206.6 336.47L1207.6 335.56L1208.6 332.19L1209.6 334.14L1210.6 337.05L1211.6 335.16L1212.6 333.34L1213.6 333.88L1214.6 335.04L1215.6 335.86L1216.6 336.63L1217.6 334.37L1218.6 335.66L1219.6 337.23L1220.6 336.02L1221.6 335.68L1222.6 338.55L1223.6 338.52L1224.6 338.18L1225.6 336.46L1226.6 338.49L1227.6 336.83L1228.6 338.33L1229.6 337.74L1230.6 342L1231.6 338.44L1232.6 340.62L1233.6 337.64L1234.6 337.91L1235.6 337.44L1236.6 339.38L1237.6 341.98L1238.6 342.45L1239.6 341.97L1240.6 344.62L1241.6 344.9L1242.6 344.08L1243.6 344.53L1244.6 344.9L1245.6 344.9L1246.6 344.9L1246.6 344.9Z" fill="#8285bb"/>
<path d="M1156.6 344.9L1157.6 339.53L1158.6 334.2L1159.6 324.8L1160.6 321.62L1161.6 315.63L1162.6 315.37L1163.6 315.1L1164.6 318.46L1165.6 321L1166.6 321.7L1167.6 324.19L1168.6 324.23L1169.6 323.34L1170.6 325.86L1171.6 326.78L1172.6 328.19L1173.6 326.8L1174.6 325.68L1175.6 330.92L1176.6 331.37L1177.6 327.74L1178.6 330.14L1179.6 331.68L1180.6 331.53L1181.6 330.87L1182.6 330.44L1183.6 333.34L1184.6 329.76L1185.6 333.46L1186.6 333.18L1187.6 334.24L1188.6 333.03L1189.6 332.79L1190.6 332.75L1191.6 332.81L1192.6 331.34L1193.6 331.05L1194.6 332.45L1195.6 332.98L1196.6 330.9L1197.6 331.66L1198.6 333.32L1199.6 333.28L1200.6 333.27L1201.6 334.35L1202.6 332.69L1203.6 335.7L1204.6 332.28L1205.6 337.13L1206.6 336.47L1207.6 335.56L1208.6 332.19L1209.6 334.14L1210.6 337.05L1211.6 335.16L1212.6 333.34L1213.6 333.88L1214.6 335.04L1215.6 335.86L1216.6 336.63L1217.6 334.37L1218.6 335.66L1219.6 337.23L1220.6 336.02L1221.6 335.68L1222.6 338.55L1223.6 338.52L1224.6 338.18L1225.6 336.46L1226.6 338.49L1227.6 336.83L1228.6 338.33L1229.6 337.74L1230.6 342L1231.6 338.44L1232.6 340.62L1233.6 337.64L1234.6 337.91L1235.6 337.44L1236.6 339.38L1237.6 341.98L1238.6 342.45L1239.6 341.97L1240.6 344.62L1241.6 344.9L1242.6 344.08L1243.6 344.53L1244.6 344.9L1245.6 344.9L1246.6 344.9" fill="none" stroke="#1414e6" stroke-width="1.7" stroke-linejoin="round"/>
<path d="M1137.6 346.63L1138.6 346.11L1139.6 345.39L1140.6 343.41L1141.6 340.16L1142.6 336.22L1143.6 328.92L1144.6 318.1L1145.6 302.68L1146.6 283.37L1147.6 258.96L1148.6 229.05L1149.6 195.53L1150.6 158.73L1151.6 124.38L1152.6 92.38L1153.6 67.45L1154.6 52.32L1155.6 49.26L1156.6 54.39L1157.6 67.32L1158.6 89.84L1159.6 116.77L1160.6 146.99L1161.6 176.72L1162.6 208L1163.6 238.66L1164.6 263.66L1165.6 282.73L1166.6 296.44L1167.6 308.34L1168.6 315.69L1169.6 320L1170.6 322.92L1171.6 325.68L1172.6 326.73L1173.6 326.6L1174.6 327.34L1175.6 328.72L1176.6 329.18L1177.6 329.48L1178.6 330.57L1179.6 331.36L1180.6 329.88L1181.6 331.28L1182.6 331.22L1183.6 331.12L1184.6 331.66L1185.6 331.53L1186.6 332.33L1187.6 333.21L1188.6 332.12L1189.6 332.76L1190.6 332.35L1191.6 333.06L1192.6 333.55L1193.6 332.57L1194.6 332.85L1195.6 333.03L1196.6 333.04L1197.6 333.71L1198.6 333.86L1199.6 333.04L1200.6 333.68L1201.6 333.81L1202.6 334.13L1203.6 333.5L1204.6 334.41L1205.6 334.13L1206.6 335.34L1207.6 335L1208.6 335L1209.6 334.28L1210.6 334.55L1211.6 334.73L1212.6 335.29L1213.6 335.54L1214.6 334.66L1215.6 336.37L1216.6 334.84L1217.6 335.3L1218.6 336.75L1219.6 335.7L1220.6 336.45L1221.6 337.05L1222.6 337.13L1223.6 337.61L1224.6 336.99L1225.6 337.66L1226.6 337.41L1227.6 338.88L1228.6 338.08L1229.6 338.51L1230.6 337.67L1231.6 337.82L1232.6 338.69L1233.6 337.44L1234.6 338.01L1235.6 337.64L1236.6 335.63L1237.6 333.76L1238.6 332.87L1239.6 330.25L1240.6 325.87L1241.6 322.45L1242.6 315.82L1243.6 310.05L1244.6 304.96L1245.6 299.95L1246.6 296.66L1247.6 294.7L1248.6 293.7L1249.6 294.08L1250.6 296.76L1251.6 300.15L1252.6 305.14L1253.6 310.66L1254.6 316.83L1255.6 323.17L1256.6 328.4L1257.6 332.47L1258.6 336.4L1259.6 338.99L1260.6 342.47L1261.6 342.83L1262.6 344.21L1263.6 345.5L1264.6 346.22L1265.6 345.74" fill="none" stroke="#1414e6" stroke-width="1.7" stroke-linejoin="round"/>
<path d="M1125.1 347.1L1125.1 346.86L1126.1 346.86L1126.1 346.57L1127.1 346.57L1127.1 346.11L1128.1 346.11L1128.1 345.35L1129.1 345.35L1129.1 342.71L1130.1 342.71L1130.1 338.49L1131.1 338.49L1131.1 345.12L1132.1 345.12L1132.1 344.4L1133.1 344.4L1133.1 339.5L1134.1 339.5L1134.1 347.1L1135.1 347.1L1135.1 344.96L1136.1 344.96L1136.1 343.14L1137.1 343.14L1137.1 345.22L1138.1 345.22L1138.1 339.54L1139.1 339.54L1139.1 339.25L1140.1 339.25L1140.1 333.63L1141.1 333.63L1141.1 330.97L1142.1 330.97L1142.1 321.15L1143.1 321.15L1143.1 313.22L1144.1 313.22L1144.1 294.79L1145.1 294.79L1145.1 277.31L1146.1 277.31L1146.1 250.89L1147.1 250.89L1147.1 224.09L1148.1 224.09L1148.1 192.97L1149.1 192.97L1149.1 160.76L1150.1 160.76L1150.1 128.23L1151.1 128.23L1151.1 99.26L1152.1 99.26L1152.1 74.06L1153.1 74.06L1153.1 55.42L1154.1 55.42L1154.1 45.89L1155.1 45.89L1155.1 45.38L1156.1 45.38L1156.1 53.23L1157.1 53.23L1157.1 66.38L1158.1 66.38L1158.1 91.24L1159.1 91.24L1159.1 118.24L1160.1 118.24L1160.1 147.97L1161.1 147.97L1161.1 178.21L1162.1 178.21L1162.1 207.08L1163.1 207.08L1163.1 240.56L1164.1 240.56L1164.1 263.72L1165.1 263.72L1165.1 283.35L1166.1 283.35L1166.1 293.11L1167.1 293.11L1167.1 308.4L1168.1 308.4L1168.1 314.33L1169.1 314.33L1169.1 316.5L1170.1 316.5L1170.1 319.49L1171.1 319.49L1171.1 316.93L1172.1 316.93L1172.1 326.94L1173.1 326.94L1173.1 326.53L1174.1 326.53L1174.1 327.5L1175.1 327.5L1175.1 323.02L1176.1 323.02L1176.1 331.04L1177.1 331.04L1177.1 326.6L1178.1 326.6L1178.1 323.57L1179.1 323.57L1179.1 327.55L1180.1 327.55L1180.1 332.9L1181.1 332.9L1181.1 322.91L1182.1 322.91L1182.1 333.01L1183.1 333.01L1183.1 327.26L1184.1 327.26L1184.1 333.76L1185.1 333.76L1185.1 331.31L1186.1 331.31L1186.1 334.39L1187.1 334.39L1187.1 333.17L1188.1 333.17L1188.1 335.04L1189.1 335.04L1189.1 331.33L1190.1 331.33L1190.1 330.47L1191.1 330.47L1191.1 328.76L1192.1 328.76L1192.1 333.16L1193.1 333.16L1193.1 333.12L1194.1 333.12L1194.1 330.69L1195.1 330.69L1195.1 332.21L1196.1 332.21L1196.1 334.94L1197.1 334.94L1197.1 328.76L1198.1 328.76L1198.1 335.53L1199.1 335.53L1199.1 337.69L1200.1 337.69L1200.1 334.98L1201.1 334.98L1201.1 334.63L1202.1 334.63L1202.1 335.51L1203.1 335.51L1203.1 332.19L1204.1 332.19L1204.1 334L1205.1 334L1205.1 334.58L1206.1 334.58L1206.1 334.74L1207.1 334.74L1207.1 333.18L1208.1 333.18L1208.1 333.78L1209.1 333.78L1209.1 329.13L1210.1 329.13L1210.1 336.55L1211.1 336.55L1211.1 332.06L1212.1 332.06L1212.1 334.38L1213.1 334.38L1213.1 333.9L1214.1 333.9L1214.1 331.81L1215.1 331.81L1215.1 335.27L1216.1 335.27L1216.1 334.62L1217.1 334.62L1217.1 339.2L1218.1 339.2L1218.1 335.24L1219.1 335.24L1219.1 338.72L1220.1 338.72L1220.1 335.45L1221.1 335.45L1221.1 335.55L1222.1 335.55L1222.1 337.86L1223.1 337.86L1223.1 335.43L1224.1 335.43L1224.1 329.02L1225.1 329.02L1225.1 337.79L1226.1 337.79L1226.1 335.53L1227.1 335.53L1227.1 337.76L1228.1 337.76L1228.1 337.27L1229.1 337.27L1229.1 335.03L1230.1 335.03L1230.1 339.58L1231.1 339.58L1231.1 338.38L1232.1 338.38L1232.1 336.03L1233.1 336.03L1233.1 337.08L1234.1 337.08L1234.1 333.99L1235.1 333.99L1235.1 335.97L1236.1 335.97L1236.1 332.86L1237.1 332.86L1237.1 330.65L1238.1 330.65L1238.1 331.94L1239.1 331.94L1239.1 328.67L1240.1 328.67L1240.1 330.08L1241.1 330.08L1241.1 319.79L1242.1 319.79L1242.1 316.7L1243.1 316.7L1243.1 307.28L1244.1 307.28L1244.1 305.95L1245.1 305.95L1245.1 299.34L1246.1 299.34L1246.1 295.02L1247.1 295.02L1247.1 291.23L1248.1 291.23L1248.1 292.93L1249.1 292.93L1249.1 294.04L1250.1 294.04L1250.1 294.98L1251.1 294.98L1251.1 299.82L1252.1 299.82L1252.1 307.03L1253.1 307.03L1253.1 307.58L1254.1 307.58L1254.1 308.64L1255.1 308.64L1255.1 321.68L1256.1 321.68L1256.1 325.79L1257.1 325.79L1257.1 331.15L1258.1 331.15L1258.1 337.69L1259.1 337.69L1259.1 337.2L1260.1 337.2L1260.1 336.08L1261.1 336.08L1261.1 342.01L1262.1 342.01L1262.1 345.32L1263.1 345.32L1263.1 345.16L1264.1 345.16L1264.1 346.23L1265.1 346.23L1265.1 346.6L1266.1 346.6L1266.1 346.82L1267.1 346.82L1267.1 347.1" fill="none" stroke="#000" stroke-width="1.0"/>
<line x1="1051.6" y1="347.1" x2="1408.5" y2="347.1" stroke="#000" stroke-width="2.1"/>
<path d="M1051.7 347.1V356.1M1069.3 347.1V350.7M1086.9 347.1V350.7M1104.5 347.1V350.7M1122.1 347.1V356.1M1139.7 347.1V350.7M1157.3 347.1V350.7M1174.9 347.1V350.7M1192.5 347.1V356.1M1210.1 347.1V350.7M1227.7 347.1V350.7M1245.3 347.1V350.7M1262.9 347.1V356.1M1280.5 347.1V350.7M1298.1 347.1V350.7M1315.7 347.1V350.7M1333.3 347.1V356.1M1350.9 347.1V350.7M1368.5 347.1V350.7M1386.1 347.1V350.7M1403.7 347.1V356.1" stroke="#1a1a1a" stroke-width="1.5" fill="none"/>
<path d="M1047.3 347.2H1051.6M1047.3 276.3H1051.6M1047.3 204H1051.6M1047.3 130.8H1051.6M1047.3 58.7H1051.6" stroke="#1a1a1a" stroke-width="1.3" fill="none"/>
<g clip-path="url(#cl2)" font-size="19.5" fill="#2a2a2a" text-anchor="middle"><text x="1054.8" y="384">0</text><text x="1125.7" y="384">200</text><text x="1196.6" y="384">400</text><text x="1267.5" y="384">600</text><text x="1338.4" y="384">800</text><text x="1409.3" y="384">1000</text></g>
<g font-size="19.5" fill="#2a2a2a" text-anchor="end"><text x="1049.8" y="355.8">0</text><text x="1049.8" y="284.9">100</text><text x="1049.8" y="212.6">200</text><text x="1049.8" y="139.4">300</text><text x="1049.8" y="67.3">400</text></g>
<text x="1238.05" y="405.7" font-size="19.5" letter-spacing="0.8" fill="#222" text-anchor="middle">PE-A</text>
<text transform="translate(1014.8 179.35) rotate(-90)" font-size="20.5" letter-spacing="0.55" fill="#222" text-anchor="middle"># Cells</text>
<text x="1236.9" y="461" font-size="36" font-weight="bold" fill="#000" text-anchor="middle">20 µM</text>
<clipPath id="cl3"><rect x="66.5" y="517.8" width="430" height="410.1"/></clipPath>
<clipPath id="cp3"><rect x="126.5" y="522.8" width="359.4" height="330.1"/></clipPath>
<rect x="126.5" y="522.8" width="359.4" height="330.1" fill="none" stroke="#3a3a3a" stroke-width="1.5"/>
<path d="M219.5 850.7L219.5 850.7L220.5 850.7L221.5 850.7L222.5 850.36L223.5 848.28L224.5 844.85L225.5 839.42L226.5 831.19L227.5 819.33L228.5 803.02L229.5 781.7L230.5 755.23L231.5 724.19L232.5 689.93L233.5 654.65L234.5 621.17L235.5 592.67L236.5 572.12L237.5 561.83L238.5 562.99L239.5 575.47L240.5 597.83L241.5 627.57L242.5 661.66L243.5 696.95L244.5 730.71L245.5 760.92L246.5 786.38L247.5 806.67L248.5 822.04L249.5 833.1L250.5 840.7L251.5 845.67L252.5 848.79L253.5 850.65L254.5 850.7L255.5 850.7L255.5 850.7Z" fill="url(#pd)"/>
<path d="M219.5 852.57L220.5 852.22L221.5 851.55L222.5 850.36L223.5 848.28L224.5 844.85L225.5 839.42L226.5 831.19L227.5 819.33L228.5 803.02L229.5 781.7L230.5 755.23L231.5 724.19L232.5 689.93L233.5 654.65L234.5 621.17L235.5 592.67L236.5 572.12L237.5 561.83L238.5 562.99L239.5 575.47L240.5 597.83L241.5 627.57L242.5 661.66L243.5 696.95L244.5 730.71L245.5 760.92L246.5 786.38L247.5 806.67L248.5 822.04L249.5 833.1L250.5 840.7L251.5 845.67L252.5 848.79L253.5 850.65L254.5 851.72L255.5 852.3" fill="none" stroke="#1414e6" stroke-width="2.0" stroke-linejoin="round"/>
<path d="M320.5 850.7L320.5 850.7L321.5 850.7L322.5 850.7L323.5 850.7L324.5 850.7L325.5 850.41L326.5 849.44L327.5 848.18L328.5 846.61L329.5 844.69L330.5 842.42L331.5 839.8L332.5 836.88L333.5 833.74L334.5 830.46L335.5 827.18L336.5 824.06L337.5 821.25L338.5 818.91L339.5 817.17L340.5 816.16L341.5 815.92L342.5 816.47L343.5 817.79L344.5 819.78L345.5 822.33L346.5 825.28L347.5 828.48L348.5 831.78L349.5 835.02L350.5 838.08L351.5 840.89L352.5 843.37L353.5 845.5L354.5 847.28L355.5 848.72L356.5 849.86L357.5 850.7L358.5 850.7L359.5 850.7L360.5 850.7L361.5 850.7L361.5 850.7Z" fill="url(#pv)"/>
<path d="M320.5 852.56L321.5 852.37L322.5 852.09L323.5 851.7L324.5 851.15L325.5 850.41L326.5 849.44L327.5 848.18L328.5 846.61L329.5 844.69L330.5 842.42L331.5 839.8L332.5 836.88L333.5 833.74L334.5 830.46L335.5 827.18L336.5 824.06L337.5 821.25L338.5 818.91L339.5 817.17L340.5 816.16L341.5 815.92L342.5 816.47L343.5 817.79L344.5 819.78L345.5 822.33L346.5 825.28L347.5 828.48L348.5 831.78L349.5 835.02L350.5 838.08L351.5 840.89L352.5 843.37L353.5 845.5L354.5 847.28L355.5 848.72L356.5 849.86L357.5 850.73L358.5 851.39L359.5 851.87L360.5 852.21L361.5 852.45" fill="none" stroke="#1414e6" stroke-width="1.7" stroke-linejoin="round"/>
<path d="M240.5 850.7L240.5 850.7L241.5 845.47L242.5 842.43L243.5 835.77L244.5 828.83L245.5 827.52L246.5 822.8L247.5 824.83L248.5 829.12L249.5 832.02L250.5 833.67L251.5 835.15L252.5 836.06L253.5 833.62L254.5 839.87L255.5 837.66L256.5 837.38L257.5 840.85L258.5 840.32L259.5 839.42L260.5 841.68L261.5 839.44L262.5 838.6L263.5 842.07L264.5 843.56L265.5 842L266.5 842.77L267.5 844.7L268.5 844.13L269.5 843.91L270.5 843.42L271.5 842.62L272.5 844.98L273.5 846.21L274.5 846.75L275.5 841.99L276.5 845.26L277.5 845.34L278.5 841.42L279.5 843.39L280.5 841.91L281.5 845.38L282.5 846.19L283.5 846.06L284.5 844.51L285.5 844.92L286.5 845.04L287.5 842.53L288.5 843.8L289.5 847.22L290.5 845.09L291.5 844.87L292.5 846.74L293.5 842.46L294.5 844.42L295.5 843.58L296.5 846.44L297.5 847.3L298.5 844.64L299.5 845.98L300.5 846.51L301.5 845.83L302.5 845.41L303.5 845.5L304.5 845.99L305.5 845.05L306.5 841.64L307.5 844.01L308.5 846.28L309.5 842.61L310.5 846.05L311.5 847.45L312.5 847.13L313.5 847.96L314.5 843.4L315.5 846.46L316.5 846.83L317.5 845.52L318.5 844.93L319.5 846.3L320.5 845.26L321.5 844.37L322.5 843.37L323.5 845.51L324.5 843.31L325.5 843.64L326.5 843.14L327.5 844.85L328.5 845.92L329.5 843.13L330.5 843.84L331.5 845.79L332.5 846.14L333.5 844.25L334.5 842.58L335.5 846.24L336.5 844.55L337.5 848.99L338.5 850.29L339.5 850.7L339.5 850.7Z" fill="#8285bb"/>
<path d="M240.5 850.7L241.5 845.47L242.5 842.43L243.5 835.77L244.5 828.83L245.5 827.52L246.5 822.8L247.5 824.83L248.5 829.12L249.5 832.02L250.5 833.67L251.5 835.15L252.5 836.06L253.5 833.62L254.5 839.87L255.5 837.66L256.5 837.38L257.5 840.85L258.5 840.32L259.5 839.42L260.5 841.68L261.5 839.44L262.5 838.6L263.5 842.07L264.5 843.56L265.5 842L266.5 842.77L267.5 844.7L268.5 844.13L269.5 843.91L270.5 843.42L271.5 842.62L272.5 844.98L273.5 846.21L274.5 846.75L275.5 841.99L276.5 845.26L277.5 845.34L278.5 841.42L279.5 843.39L280.5 841.91L281.5 845.38L282.5 846.19L283.5 846.06L284.5 844.51L285.5 844.92L286.5 845.04L287.5 842.53L288.5 843.8L289.5 847.22L290.5 845.09L291.5 844.87L292.5 846.74L293.5 842.46L294.5 844.42L295.5 843.58L296.5 846.44L297.5 847.3L298.5 844.64L299.5 845.98L300.5 846.51L301.5 845.83L302.5 845.41L303.5 845.5L304.5 845.99L305.5 845.05L306.5 841.64L307.5 844.01L308.5 846.28L309.5 842.61L310.5 846.05L311.5 847.45L312.5 847.13L313.5 847.96L314.5 843.4L315.5 846.46L316.5 846.83L317.5 845.52L318.5 844.93L319.5 846.3L320.5 845.26L321.5 844.37L322.5 843.37L323.5 845.51L324.5 843.31L325.5 843.64L326.5 843.14L327.5 844.85L328.5 845.92L329.5 843.13L330.5 843.84L331.5 845.79L332.5 846.14L333.5 844.25L334.5 842.58L335.5 846.24L336.5 844.55L337.5 848.99L338.5 850.29L339.5 850.7" fill="none" stroke="#1414e6" stroke-width="1.7" stroke-linejoin="round"/>
<path d="M219.5 852.02L220.5 852.97L221.5 851.48L222.5 849.73L223.5 849.07L224.5 844.73L225.5 839.04L226.5 830.34L227.5 818.55L228.5 803.04L229.5 780.66L230.5 755.79L231.5 724.9L232.5 689.27L233.5 654.31L234.5 621.75L235.5 592.13L236.5 571.69L237.5 561.47L238.5 563.22L239.5 576.12L240.5 595.58L241.5 619.43L242.5 648.32L243.5 678.6L244.5 707.16L245.5 731.4L246.5 758.36L247.5 780.34L248.5 796.22L249.5 810.48L250.5 819.84L251.5 825.61L252.5 831.81L253.5 833.6L254.5 837.76L255.5 838.54L256.5 839.48L257.5 839.89L258.5 840.26L259.5 839.87L260.5 840.8L261.5 840.49L262.5 841.21L263.5 842.63L264.5 842.41L265.5 843.14L266.5 843.46L267.5 843.59L268.5 843.75L269.5 843.81L270.5 845.19L271.5 844.3L272.5 844.54L273.5 843.47L274.5 844.62L275.5 844.6L276.5 844.68L277.5 844.38L278.5 845.44L279.5 845.02L280.5 845.11L281.5 845.15L282.5 845.36L283.5 845.6L284.5 845.38L285.5 846.18L286.5 844.79L287.5 845.7L288.5 846.62L289.5 845.85L290.5 845.23L291.5 845.8L292.5 845.78L293.5 846.86L294.5 844.99L295.5 845.67L296.5 846.7L297.5 845.93L298.5 844.97L299.5 845.51L300.5 846.46L301.5 845.99L302.5 845.58L303.5 844.66L304.5 845.58L305.5 845.33L306.5 845.87L307.5 845.64L308.5 846.07L309.5 846.14L310.5 846.06L311.5 845.58L312.5 844.56L313.5 845.11L314.5 844.38L315.5 844.48L316.5 844.65L317.5 844.8L318.5 843.23L319.5 843.42L320.5 842.92L321.5 841.65L322.5 841.27L323.5 840.72L324.5 839.08L325.5 837.01L326.5 833.72L327.5 832.78L328.5 830.23L329.5 826.32L330.5 822.69L331.5 819.61L332.5 815.61L333.5 812.81L334.5 810.55L335.5 809.51L336.5 808.1L337.5 808.09L338.5 808.79L339.5 810.97L340.5 811.32L341.5 813.43L342.5 815.26L343.5 815.49L344.5 818.41L345.5 821.41L346.5 824.22L347.5 827.45L348.5 831.53L349.5 834.82L350.5 837.75L351.5 840.44L352.5 843.27L353.5 846.17L354.5 846.02L355.5 849.09L356.5 850.15L357.5 850.43L358.5 851.41L359.5 851.6L360.5 850.99L361.5 851.73" fill="none" stroke="#1414e6" stroke-width="1.7" stroke-linejoin="round"/>
<path d="M209 852.9L209 852.66L210 852.66L210 852.43L211 852.43L211 852.09L212 852.09L212 851.56L213 851.56L213 850.29L214 850.29L214 849.01L215 849.01L215 849.66L216 849.66L216 850.23L217 850.23L217 851.76L218 851.76L218 850.29L219 850.29L219 849.94L220 849.94L220 848.66L221 848.66L221 851.74L222 851.74L222 847.18L223 847.18L223 839.49L224 839.49L224 834.5L225 834.5L225 825.84L226 825.84L226 813.18L227 813.18L227 787.82L228 787.82L228 772.25L229 772.25L229 749.48L230 749.48L230 720.89L231 720.89L231 687.81L232 687.81L232 658.93L233 658.93L233 626.74L234 626.74L234 596.81L235 596.81L235 574.71L236 574.71L236 559.06L237 559.06L237 551.35L238 551.35L238 556.73L239 556.73L239 570.99L240 570.99L240 592.65L241 592.65L241 616.49L242 616.49L242 647.24L243 647.24L243 677.9L244 677.9L244 707.17L245 707.17L245 732.26L246 732.26L246 759.74L247 759.74L247 780.39L248 780.39L248 800.62L249 800.62L249 805L250 805L250 818.77L251 818.77L251 823.71L252 823.71L252 830.93L253 830.93L253 835.99L254 835.99L254 836.6L255 836.6L255 837.74L256 837.74L256 839.83L257 839.83L257 840.28L258 840.28L258 840.4L259 840.4L259 840.2L260 840.2L260 837.94L261 837.94L261 838.41L262 838.41L262 838.55L263 838.55L263 842.66L264 842.66L264 844.83L265 844.83L265 845.11L266 845.11L266 844.16L267 844.16L267 843.32L268 843.32L268 841.13L269 841.13L269 843.81L270 843.81L270 837.69L271 837.69L271 843.08L272 843.08L272 841.21L273 841.21L273 843.79L274 843.79L274 844.18L275 844.18L275 844.16L276 844.16L276 843.76L277 843.76L277 844.78L278 844.78L278 849.35L279 849.35L279 842.07L280 842.07L280 845.46L281 845.46L281 844.87L282 844.87L282 842.62L283 842.62L283 844.1L284 844.1L284 845.36L285 845.36L285 844.28L286 844.28L286 845.23L287 845.23L287 845.24L288 845.24L288 843.88L289 843.88L289 845.81L290 845.81L290 844.94L291 844.94L291 845.42L292 845.42L292 842.99L293 842.99L293 848.45L294 848.45L294 847.48L295 847.48L295 848.39L296 848.39L296 848.28L297 848.28L297 846.16L298 846.16L298 834.37L299 834.37L299 847.8L300 847.8L300 845.97L301 845.97L301 838.85L302 838.85L302 846.02L303 846.02L303 846.25L304 846.25L304 848.4L305 848.4L305 846.96L306 846.96L306 834.81L307 834.81L307 839.12L308 839.12L308 844.8L309 844.8L309 849.08L310 849.08L310 844.57L311 844.57L311 842.72L312 842.72L312 844.88L313 844.88L313 844.91L314 844.91L314 846.71L315 846.71L315 846.03L316 846.03L316 843.62L317 843.62L317 843.24L318 843.24L318 840.89L319 840.89L319 838.77L320 838.77L320 845.86L321 845.86L321 840.75L322 840.75L322 844.07L323 844.07L323 840.44L324 840.44L324 837.65L325 837.65L325 838.71L326 838.71L326 834.74L327 834.74L327 832.93L328 832.93L328 830.42L329 830.42L329 822.84L330 822.84L330 820.88L331 820.88L331 816.13L332 816.13L332 817.71L333 817.71L333 813.05L334 813.05L334 810.58L335 810.58L335 809.73L336 809.73L336 811.91L337 811.91L337 805.5L338 805.5L338 808.69L339 808.69L339 812.17L340 812.17L340 813.83L341 813.83L341 814.78L342 814.78L342 812.61L343 812.61L343 817.41L344 817.41L344 816.72L345 816.72L345 824.09L346 824.09L346 822.98L347 822.98L347 825.9L348 825.9L348 831.17L349 831.17L349 834.41L350 834.41L350 836.35L351 836.35L351 837.39L352 837.39L352 840.63L353 840.63L353 843.47L354 843.47L354 846.15L355 846.15L355 846.35L356 846.35L356 849.5L357 849.5L357 850.68L358 850.68L358 850.36L359 850.36L359 852.9L360 852.9L360 852.21L361 852.21L361 852.45L362 852.45L362 852.61L363 852.61L363 852.9" fill="none" stroke="#000" stroke-width="1.0"/>
<line x1="126.5" y1="852.9" x2="482.9" y2="852.9" stroke="#000" stroke-width="2.1"/>
<path d="M126.6 852.9V861.9M144.2 852.9V856.5M161.8 852.9V856.5M179.4 852.9V856.5M197 852.9V861.9M214.6 852.9V856.5M232.2 852.9V856.5M249.8 852.9V856.5M267.4 852.9V861.9M285 852.9V856.5M302.6 852.9V856.5M320.2 852.9V856.5M337.8 852.9V861.9M355.4 852.9V856.5M373 852.9V856.5M390.6 852.9V856.5M408.2 852.9V861.9M425.8 852.9V856.5M443.4 852.9V856.5M461 852.9V856.5M478.6 852.9V861.9" stroke="#1a1a1a" stroke-width="1.5" fill="none"/>
<path d="M122.2 853H126.5M122.2 776H126.5M122.2 697.6H126.5M122.2 618H126.5M122.2 537.9H126.5" stroke="#1a1a1a" stroke-width="1.3" fill="none"/>
<g clip-path="url(#cl3)" font-size="19.5" fill="#2a2a2a" text-anchor="middle"><text x="128.5" y="890.6">0</text><text x="199.4" y="890.6">200</text><text x="270.3" y="890.6">400</text><text x="341.2" y="890.6">600</text><text x="412.1" y="890.6">800</text><text x="483" y="890.6">1000</text></g>
<g font-size="19.5" fill="#2a2a2a" text-anchor="end"><text x="124.7" y="861.6">0</text><text x="124.7" y="784.6">100</text><text x="124.7" y="706.2">200</text><text x="124.7" y="626.6">300</text><text x="124.7" y="546.5">400</text></g>
<text x="312.7" y="911.5" font-size="19.5" letter-spacing="0.8" fill="#222" text-anchor="middle">PE-A</text>
<text transform="translate(89.7 686.15) rotate(-90)" font-size="20.5" letter-spacing="0.55" fill="#222" text-anchor="middle"># Cells</text>
<text x="306.5" y="967.2" font-size="36" font-weight="bold" fill="#000" text-anchor="middle">30 µM</text>
<clipPath id="cl4"><rect x="528.6" y="517.5" width="431" height="410.8"/></clipPath>
<clipPath id="cp4"><rect x="588.6" y="522.5" width="360.6" height="330.8"/></clipPath>
<rect x="588.6" y="522.5" width="360.6" height="330.8" fill="none" stroke="#3a3a3a" stroke-width="1.5"/>
<path d="M674.6 851.1L674.6 851.1L675.6 851.1L676.6 851.1L677.6 850.54L678.6 848.27L679.6 844.52L680.6 838.58L681.6 829.63L682.6 816.8L683.6 799.31L684.6 776.69L685.6 749.04L686.6 717.19L687.6 682.86L688.6 648.59L689.6 617.44L690.6 592.65L691.6 577L692.6 572.36L693.6 579.29L694.6 596.96L695.6 623.27L696.6 655.3L697.6 689.82L698.6 723.83L699.6 754.94L700.6 781.63L701.6 803.21L702.6 819.72L703.6 831.7L704.6 839.98L705.6 845.42L706.6 848.83L707.6 850.86L708.6 851.1L709.6 851.1L710.6 851.1L710.6 851.1Z" fill="url(#pd)"/>
<path d="M674.6 852.94L675.6 852.57L676.6 851.85L677.6 850.54L678.6 848.27L679.6 844.52L680.6 838.58L681.6 829.63L682.6 816.8L683.6 799.31L684.6 776.69L685.6 749.04L686.6 717.19L687.6 682.86L688.6 648.59L689.6 617.44L690.6 592.65L691.6 577L692.6 572.36L693.6 579.29L694.6 596.96L695.6 623.27L696.6 655.3L697.6 689.82L698.6 723.83L699.6 754.94L700.6 781.63L701.6 803.21L702.6 819.72L703.6 831.7L704.6 839.98L705.6 845.42L706.6 848.83L707.6 850.86L708.6 852.03L709.6 852.66L710.6 852.99" fill="none" stroke="#1414e6" stroke-width="2.0" stroke-linejoin="round"/>
<path d="M775.6 851.1L775.6 851.1L776.6 851.1L777.6 851.1L778.6 850.43L779.6 848.78L780.6 846.51L781.6 843.58L782.6 840.02L783.6 835.99L784.6 831.79L785.6 827.8L786.6 824.47L787.6 822.2L788.6 821.31L789.6 821.91L790.6 823.92L791.6 827.07L792.6 830.96L793.6 835.16L794.6 839.24L795.6 842.91L796.6 845.98L797.6 848.38L798.6 850.14L799.6 851.1L800.6 851.1L801.6 851.1L802.6 851.1L802.6 851.1Z" fill="url(#pv)"/>
<path d="M775.6 852.75L776.6 852.29L777.6 851.56L778.6 850.43L779.6 848.78L780.6 846.51L781.6 843.58L782.6 840.02L783.6 835.99L784.6 831.79L785.6 827.8L786.6 824.47L787.6 822.2L788.6 821.31L789.6 821.91L790.6 823.92L791.6 827.07L792.6 830.96L793.6 835.16L794.6 839.24L795.6 842.91L796.6 845.98L797.6 848.38L798.6 850.14L799.6 851.37L800.6 852.17L801.6 852.67L802.6 852.97" fill="none" stroke="#1414e6" stroke-width="1.7" stroke-linejoin="round"/>
<path d="M694.6 851.1L694.6 851.1L695.6 846.25L696.6 842.46L697.6 838.47L698.6 836.78L699.6 833.44L700.6 834.93L701.6 839.62L702.6 836.94L703.6 839.45L704.6 840.57L705.6 837.32L706.6 840.84L707.6 842.57L708.6 842.11L709.6 841.7L710.6 841.7L711.6 843.09L712.6 844.39L713.6 844.3L714.6 844.63L715.6 845.11L716.6 843.78L717.6 844.61L718.6 843.98L719.6 845.38L720.6 845.59L721.6 844.77L722.6 845.15L723.6 843.15L724.6 846.24L725.6 844.8L726.6 845.31L727.6 847.27L728.6 844.51L729.6 845.45L730.6 848.81L731.6 845.01L732.6 844.57L733.6 847.1L734.6 843.59L735.6 845.84L736.6 847.76L737.6 845.36L738.6 846.73L739.6 848.17L740.6 849.38L741.6 846.01L742.6 847.46L743.6 845.54L744.6 845.96L745.6 847.3L746.6 847.37L747.6 844.14L748.6 844.27L749.6 845.69L750.6 847.26L751.6 847.93L752.6 846.85L753.6 843.69L754.6 845.18L755.6 846.02L756.6 847.12L757.6 844.91L758.6 846.17L759.6 844.67L760.6 843.39L761.6 842.7L762.6 843.79L763.6 844.25L764.6 843.21L765.6 840.73L766.6 842.54L767.6 844.84L768.6 840.4L769.6 842.03L770.6 837.16L771.6 842.42L772.6 841.52L773.6 841.44L774.6 840.11L775.6 841.1L776.6 842.01L777.6 842.27L778.6 839.73L779.6 843.81L780.6 847.43L781.6 847.11L781.6 851.1Z" fill="#8285bb"/>
<path d="M694.6 851.1L695.6 846.25L696.6 842.46L697.6 838.47L698.6 836.78L699.6 833.44L700.6 834.93L701.6 839.62L702.6 836.94L703.6 839.45L704.6 840.57L705.6 837.32L706.6 840.84L707.6 842.57L708.6 842.11L709.6 841.7L710.6 841.7L711.6 843.09L712.6 844.39L713.6 844.3L714.6 844.63L715.6 845.11L716.6 843.78L717.6 844.61L718.6 843.98L719.6 845.38L720.6 845.59L721.6 844.77L722.6 845.15L723.6 843.15L724.6 846.24L725.6 844.8L726.6 845.31L727.6 847.27L728.6 844.51L729.6 845.45L730.6 848.81L731.6 845.01L732.6 844.57L733.6 847.1L734.6 843.59L735.6 845.84L736.6 847.76L737.6 845.36L738.6 846.73L739.6 848.17L740.6 849.38L741.6 846.01L742.6 847.46L743.6 845.54L744.6 845.96L745.6 847.3L746.6 847.37L747.6 844.14L748.6 844.27L749.6 845.69L750.6 847.26L751.6 847.93L752.6 846.85L753.6 843.69L754.6 845.18L755.6 846.02L756.6 847.12L757.6 844.91L758.6 846.17L759.6 844.67L760.6 843.39L761.6 842.7L762.6 843.79L763.6 844.25L764.6 843.21L765.6 840.73L766.6 842.54L767.6 844.84L768.6 840.4L769.6 842.03L770.6 837.16L771.6 842.42L772.6 841.52L773.6 841.44L774.6 840.11L775.6 841.1L776.6 842.01L777.6 842.27L778.6 839.73L779.6 843.81L780.6 847.43L781.6 847.11" fill="none" stroke="#1414e6" stroke-width="1.7" stroke-linejoin="round"/>
<path d="M674.6 852.54L675.6 852.01L676.6 852.1L677.6 850.39L678.6 848.38L679.6 844.62L680.6 838.2L681.6 829.32L682.6 816.64L683.6 799.23L684.6 777.43L685.6 749.41L686.6 717L687.6 683.05L688.6 648.98L689.6 617.26L690.6 593.12L691.6 577.34L692.6 571.91L693.6 579.47L694.6 594.66L695.6 617.5L696.6 645.46L697.6 675.76L698.6 707.31L699.6 735.53L700.6 764.43L701.6 787.2L702.6 805.13L703.6 817.36L704.6 826.78L705.6 831.85L706.6 836.84L707.6 839.13L708.6 840.7L709.6 841.39L710.6 842.58L711.6 843.18L712.6 843.26L713.6 843.99L714.6 842.81L715.6 843.22L716.6 843.54L717.6 843.76L718.6 844.36L719.6 844.41L720.6 843.94L721.6 844.9L722.6 845.05L723.6 844L724.6 844.16L725.6 844.95L726.6 844.98L727.6 845.3L728.6 844.82L729.6 845.92L730.6 845.77L731.6 845.62L732.6 845.19L733.6 846.09L734.6 845.9L735.6 846.31L736.6 846.44L737.6 846.49L738.6 846.17L739.6 845.81L740.6 846.66L741.6 846.67L742.6 846.62L743.6 846.28L744.6 846.16L745.6 847.19L746.6 846.43L747.6 847.16L748.6 846.35L749.6 847.25L750.6 847.3L751.6 846.88L752.6 846.32L753.6 846.56L754.6 845.73L755.6 845.53L756.6 845.33L757.6 845.01L758.6 844.47L759.6 845.05L760.6 844.45L761.6 844.23L762.6 845L763.6 843.52L764.6 843.83L765.6 843.51L766.6 843.02L767.6 842.33L768.6 841.7L769.6 840.99L770.6 840.75L771.6 838.94L772.6 837.76L773.6 836.66L774.6 834.78L775.6 832.53L776.6 830.74L777.6 828.53L778.6 827.01L779.6 828.02L780.6 828.77L781.6 830.68L782.6 832.08L783.6 827.41L784.6 825.53L785.6 823.15L786.6 821.47L787.6 818.84L788.6 818.48L789.6 819.82L790.6 823.05L791.6 825.66L792.6 830.58L793.6 835.2L794.6 839.07L795.6 842.73L796.6 845.91L797.6 848.16L798.6 851.23L799.6 850.58L800.6 852.46L801.6 852.35L802.6 853.37" fill="none" stroke="#1414e6" stroke-width="1.7" stroke-linejoin="round"/>
<path d="M663.1 853.3L663.1 852.83L664.1 852.83L664.1 852.32L665.1 852.32L665.1 853.3L666.1 853.3L666.1 853.3L667.1 853.3L667.1 846.86L668.1 846.86L668.1 853.3L669.1 853.3L669.1 848.93L670.1 848.93L670.1 853.3L671.1 853.3L671.1 849.69L672.1 849.69L672.1 851.3L673.1 851.3L673.1 848.36L674.1 848.36L674.1 852.77L675.1 852.77L675.1 847.19L676.1 847.19L676.1 847.4L677.1 847.4L677.1 846.06L678.1 846.06L678.1 840.33L679.1 840.33L679.1 835.35L680.1 835.35L680.1 819.37L681.1 819.37L681.1 808.6L682.1 808.6L682.1 787.71L683.1 787.71L683.1 768.6L684.1 768.6L684.1 744.36L685.1 744.36L685.1 715.07L686.1 715.07L686.1 682.75L687.1 682.75L687.1 650.1L688.1 650.1L688.1 617.82L689.1 617.82L689.1 589.27L690.1 589.27L690.1 564.96L691.1 564.96L691.1 551.22L692.1 551.22L692.1 550.61L693.1 550.61L693.1 561.78L694.1 561.78L694.1 581.42L695.1 581.42L695.1 608.43L696.1 608.43L696.1 641.38L697.1 641.38L697.1 673.92L698.1 673.92L698.1 704.09L699.1 704.09L699.1 735.05L700.1 735.05L700.1 764.19L701.1 764.19L701.1 786.52L702.1 786.52L702.1 805.12L703.1 805.12L703.1 814.84L704.1 814.84L704.1 826.4L705.1 826.4L705.1 832.13L706.1 832.13L706.1 836.54L707.1 836.54L707.1 838.1L708.1 838.1L708.1 837.9L709.1 837.9L709.1 842.81L710.1 842.81L710.1 841.16L711.1 841.16L711.1 840.54L712.1 840.54L712.1 841.22L713.1 841.22L713.1 835.18L714.1 835.18L714.1 842.45L715.1 842.45L715.1 842.17L716.1 842.17L716.1 844.56L717.1 844.56L717.1 844.5L718.1 844.5L718.1 839.78L719.1 839.78L719.1 846.47L720.1 846.47L720.1 842.58L721.1 842.58L721.1 846.3L722.1 846.3L722.1 845.03L723.1 845.03L723.1 843.88L724.1 843.88L724.1 839.67L725.1 839.67L725.1 843.04L726.1 843.04L726.1 838.79L727.1 838.79L727.1 842.98L728.1 842.98L728.1 841.94L729.1 841.94L729.1 843.64L730.1 843.64L730.1 843.01L731.1 843.01L731.1 842.34L732.1 842.34L732.1 845.93L733.1 845.93L733.1 848.87L734.1 848.87L734.1 845.8L735.1 845.8L735.1 846.9L736.1 846.9L736.1 845.54L737.1 845.54L737.1 843.72L738.1 843.72L738.1 846.84L739.1 846.84L739.1 845.05L740.1 845.05L740.1 845.55L741.1 845.55L741.1 848.4L742.1 848.4L742.1 843.99L743.1 843.99L743.1 848.02L744.1 848.02L744.1 849.12L745.1 849.12L745.1 846.96L746.1 846.96L746.1 844.57L747.1 844.57L747.1 847.84L748.1 847.84L748.1 842.53L749.1 842.53L749.1 844.5L750.1 844.5L750.1 846.59L751.1 846.59L751.1 849.75L752.1 849.75L752.1 845.53L753.1 845.53L753.1 847.56L754.1 847.56L754.1 843.72L755.1 843.72L755.1 847.64L756.1 847.64L756.1 842.57L757.1 842.57L757.1 840.69L758.1 840.69L758.1 845.59L759.1 845.59L759.1 842.96L760.1 842.96L760.1 841.49L761.1 841.49L761.1 845.25L762.1 845.25L762.1 846.65L763.1 846.65L763.1 843.27L764.1 843.27L764.1 845.78L765.1 845.78L765.1 845.36L766.1 845.36L766.1 844.98L767.1 844.98L767.1 841.33L768.1 841.33L768.1 841.68L769.1 841.68L769.1 840.7L770.1 840.7L770.1 833.12L771.1 833.12L771.1 835.45L772.1 835.45L772.1 837.38L773.1 837.38L773.1 836.29L774.1 836.29L774.1 834.32L775.1 834.32L775.1 834.76L776.1 834.76L776.1 832.52L777.1 832.52L777.1 827.05L778.1 827.05L778.1 827.06L779.1 827.06L779.1 826.04L780.1 826.04L780.1 822.26L781.1 822.26L781.1 829.03L782.1 829.03L782.1 830.01L783.1 830.01L783.1 825.06L784.1 825.06L784.1 826.1L785.1 826.1L785.1 823.54L786.1 823.54L786.1 821.63L787.1 821.63L787.1 823.21L788.1 823.21L788.1 820.79L789.1 820.79L789.1 819.99L790.1 819.99L790.1 819.79L791.1 819.79L791.1 827.13L792.1 827.13L792.1 831.2L793.1 831.2L793.1 836.27L794.1 836.27L794.1 837.76L795.1 837.76L795.1 841.1L796.1 841.1L796.1 846.24L797.1 846.24L797.1 849.51L798.1 849.51L798.1 850.92L799.1 850.92L799.1 852.72L800.1 852.72L800.1 851.37L801.1 851.37L801.1 852.67L802.1 852.67L802.1 852.97L803.1 852.97L803.1 853.3" fill="none" stroke="#000" stroke-width="1.0"/>
<line x1="588.6" y1="853.3" x2="946.2" y2="853.3" stroke="#000" stroke-width="2.1"/>
<path d="M588.7 853.3V862.3M606.3 853.3V856.9M623.9 853.3V856.9M641.5 853.3V856.9M659.1 853.3V862.3M676.7 853.3V856.9M694.3 853.3V856.9M711.9 853.3V856.9M729.5 853.3V862.3M747.1 853.3V856.9M764.7 853.3V856.9M782.3 853.3V856.9M799.9 853.3V862.3M817.5 853.3V856.9M835.1 853.3V856.9M852.7 853.3V856.9M870.3 853.3V862.3M887.9 853.3V856.9M905.5 853.3V856.9M923.1 853.3V856.9M940.7 853.3V862.3" stroke="#1a1a1a" stroke-width="1.5" fill="none"/>
<path d="M584.3 853.4H588.6M584.3 787.3H588.6M584.3 721.9H588.6M584.3 654.9H588.6M584.3 587.8H588.6" stroke="#1a1a1a" stroke-width="1.3" fill="none"/>
<g clip-path="url(#cl4)" font-size="19.5" fill="#2a2a2a" text-anchor="middle"><text x="591.8" y="890.7">0</text><text x="662.7" y="890.7">200</text><text x="733.6" y="890.7">400</text><text x="804.5" y="890.7">600</text><text x="875.4" y="890.7">800</text><text x="946.3" y="890.7">1000</text></g>
<g font-size="19.5" fill="#2a2a2a" text-anchor="end"><text x="586.8" y="862">0</text><text x="586.8" y="795.9">100</text><text x="586.8" y="730.5">200</text><text x="586.8" y="663.5">300</text><text x="586.8" y="596.4">400</text></g>
<text x="775.4" y="911.9" font-size="19.5" letter-spacing="0.8" fill="#222" text-anchor="middle">PE-A</text>
<text transform="translate(551.8 686.2) rotate(-90)" font-size="20.5" letter-spacing="0.55" fill="#222" text-anchor="middle"># Cells</text>
<text x="772.7" y="967.2" font-size="36" font-weight="bold" fill="#000" text-anchor="middle">40 µM</text>
<clipPath id="cl5"><rect x="991.9" y="519.7" width="426" height="410.1"/></clipPath>
<clipPath id="cp5"><rect x="1051.9" y="524.7" width="358" height="330.1"/></clipPath>
<rect x="1051.9" y="524.7" width="358" height="330.1" fill="none" stroke="#3a3a3a" stroke-width="1.5"/>
<path d="M1144.9 852.6L1144.9 852.6L1145.9 852.6L1146.9 852.6L1147.9 851.62L1148.9 849.06L1149.9 844.85L1150.9 838.27L1151.9 828.44L1152.9 814.49L1153.9 795.67L1154.9 771.6L1155.9 742.5L1156.9 709.41L1157.9 674.26L1158.9 639.74L1159.9 609.08L1160.9 585.5L1161.9 571.7L1162.9 569.34L1163.9 578.69L1164.9 598.63L1165.9 626.83L1166.9 660.2L1167.9 695.46L1168.9 729.66L1169.9 760.52L1170.9 786.67L1171.9 807.58L1172.9 823.4L1173.9 834.78L1174.9 842.55L1175.9 847.61L1176.9 850.75L1177.9 852.6L1178.9 852.6L1179.9 852.6L1179.9 852.6Z" fill="url(#pd)"/>
<path d="M1144.9 854.38L1145.9 853.94L1146.9 853.11L1147.9 851.62L1148.9 849.06L1149.9 844.85L1150.9 838.27L1151.9 828.44L1152.9 814.49L1153.9 795.67L1154.9 771.6L1155.9 742.5L1156.9 709.41L1157.9 674.26L1158.9 639.74L1159.9 609.08L1160.9 585.5L1161.9 571.7L1162.9 569.34L1163.9 578.69L1164.9 598.63L1165.9 626.83L1166.9 660.2L1167.9 695.46L1168.9 729.66L1169.9 760.52L1170.9 786.67L1171.9 807.58L1172.9 823.4L1173.9 834.78L1174.9 842.55L1175.9 847.61L1176.9 850.75L1177.9 852.62L1178.9 853.67L1179.9 854.24" fill="none" stroke="#1414e6" stroke-width="2.0" stroke-linejoin="round"/>
<path d="M1243.9 852.6L1243.9 852.6L1244.9 852.6L1245.9 852.6L1246.9 852.6L1247.9 852.6L1248.9 852.16L1249.9 851.25L1250.9 850.11L1251.9 848.74L1252.9 847.12L1253.9 845.27L1254.9 843.2L1255.9 840.98L1256.9 838.66L1257.9 836.33L1258.9 834.09L1259.9 832.06L1260.9 830.32L1261.9 828.99L1262.9 828.13L1263.9 827.8L1264.9 828.02L1265.9 828.78L1266.9 830.02L1267.9 831.68L1268.9 833.67L1269.9 835.87L1270.9 838.19L1271.9 840.52L1272.9 842.77L1273.9 844.87L1274.9 846.77L1275.9 848.43L1276.9 849.86L1277.9 851.04L1278.9 852L1279.9 852.6L1280.9 852.6L1281.9 852.6L1282.9 852.6L1283.9 852.6L1284.9 852.6L1284.9 852.6Z" fill="url(#pv)"/>
<path d="M1243.9 854.36L1244.9 854.15L1245.9 853.85L1246.9 853.43L1247.9 852.88L1248.9 852.16L1249.9 851.25L1250.9 850.11L1251.9 848.74L1252.9 847.12L1253.9 845.27L1254.9 843.2L1255.9 840.98L1256.9 838.66L1257.9 836.33L1258.9 834.09L1259.9 832.06L1260.9 830.32L1261.9 828.99L1262.9 828.13L1263.9 827.8L1264.9 828.02L1265.9 828.78L1266.9 830.02L1267.9 831.68L1268.9 833.67L1269.9 835.87L1270.9 838.19L1271.9 840.52L1272.9 842.77L1273.9 844.87L1274.9 846.77L1275.9 848.43L1276.9 849.86L1277.9 851.04L1278.9 852L1279.9 852.75L1280.9 853.34L1281.9 853.77L1282.9 854.09L1283.9 854.33L1284.9 854.49" fill="none" stroke="#1414e6" stroke-width="1.7" stroke-linejoin="round"/>
<path d="M1163.9 852.6L1163.9 851.38L1164.9 850.42L1165.9 846.86L1166.9 844.54L1167.9 841.06L1168.9 840.98L1169.9 842.22L1170.9 843.46L1171.9 844.4L1172.9 845.65L1173.9 846.42L1174.9 846.44L1175.9 845.21L1176.9 845.27L1177.9 844.81L1178.9 842.97L1179.9 847.93L1180.9 845.34L1181.9 848.47L1182.9 847.49L1183.9 847.89L1184.9 846.71L1185.9 845L1186.9 844.76L1187.9 846.5L1188.9 845.67L1189.9 846.51L1190.9 848.94L1191.9 844.87L1192.9 848.17L1193.9 848.12L1194.9 847.54L1195.9 848.87L1196.9 848.48L1197.9 846.56L1198.9 849.05L1199.9 848.67L1200.9 850.23L1201.9 850.51L1202.9 847.4L1203.9 847.27L1204.9 848.44L1205.9 845.52L1206.9 849.4L1207.9 847.28L1208.9 849.1L1209.9 848.13L1210.9 847.41L1211.9 850.09L1212.9 846.23L1213.9 848.35L1214.9 848.18L1215.9 848.52L1216.9 847.81L1217.9 850.11L1218.9 850.09L1219.9 847.91L1220.9 848.76L1221.9 849.05L1222.9 848.06L1223.9 846.33L1224.9 850.04L1225.9 852.1L1226.9 849.12L1227.9 851.12L1228.9 849.06L1229.9 850.11L1230.9 848.6L1231.9 845.81L1232.9 848.39L1233.9 850.46L1234.9 849.43L1235.9 849.18L1236.9 849.52L1237.9 846.62L1238.9 846.8L1239.9 845.43L1240.9 845.95L1241.9 848.03L1242.9 849.38L1243.9 849.99L1244.9 850.04L1245.9 851.66L1246.9 852.6L1247.9 849.14L1248.9 851.35L1249.9 852.6L1249.9 852.6Z" fill="#8285bb"/>
<path d="M1163.9 851.38L1164.9 850.42L1165.9 846.86L1166.9 844.54L1167.9 841.06L1168.9 840.98L1169.9 842.22L1170.9 843.46L1171.9 844.4L1172.9 845.65L1173.9 846.42L1174.9 846.44L1175.9 845.21L1176.9 845.27L1177.9 844.81L1178.9 842.97L1179.9 847.93L1180.9 845.34L1181.9 848.47L1182.9 847.49L1183.9 847.89L1184.9 846.71L1185.9 845L1186.9 844.76L1187.9 846.5L1188.9 845.67L1189.9 846.51L1190.9 848.94L1191.9 844.87L1192.9 848.17L1193.9 848.12L1194.9 847.54L1195.9 848.87L1196.9 848.48L1197.9 846.56L1198.9 849.05L1199.9 848.67L1200.9 850.23L1201.9 850.51L1202.9 847.4L1203.9 847.27L1204.9 848.44L1205.9 845.52L1206.9 849.4L1207.9 847.28L1208.9 849.1L1209.9 848.13L1210.9 847.41L1211.9 850.09L1212.9 846.23L1213.9 848.35L1214.9 848.18L1215.9 848.52L1216.9 847.81L1217.9 850.11L1218.9 850.09L1219.9 847.91L1220.9 848.76L1221.9 849.05L1222.9 848.06L1223.9 846.33L1224.9 850.04L1225.9 852.1L1226.9 849.12L1227.9 851.12L1228.9 849.06L1229.9 850.11L1230.9 848.6L1231.9 845.81L1232.9 848.39L1233.9 850.46L1234.9 849.43L1235.9 849.18L1236.9 849.52L1237.9 846.62L1238.9 846.8L1239.9 845.43L1240.9 845.95L1241.9 848.03L1242.9 849.38L1243.9 849.99L1244.9 850.04L1245.9 851.66L1246.9 852.6L1247.9 849.14L1248.9 851.35L1249.9 852.6" fill="none" stroke="#1414e6" stroke-width="1.7" stroke-linejoin="round"/>
<path d="M1144.9 854.6L1145.9 854.11L1146.9 852.88L1147.9 851.78L1148.9 850.16L1149.9 844.71L1150.9 837.98L1151.9 829.13L1152.9 815.21L1153.9 795.71L1154.9 772.15L1155.9 741.97L1156.9 708.97L1157.9 675.12L1158.9 639.49L1159.9 609.82L1160.9 585.86L1161.9 571.01L1162.9 569.46L1163.9 576.35L1164.9 593.99L1165.9 618.08L1166.9 649.53L1167.9 680.29L1168.9 715.69L1169.9 748.21L1170.9 775.32L1171.9 797.58L1172.9 812.93L1173.9 825.98L1174.9 833.12L1175.9 838.24L1176.9 841.73L1177.9 844.88L1178.9 844.66L1179.9 845.53L1180.9 845.74L1181.9 847.04L1182.9 846.57L1183.9 846.15L1184.9 846.76L1185.9 846.78L1186.9 847.17L1187.9 847.11L1188.9 847.07L1189.9 845.84L1190.9 847.28L1191.9 847.54L1192.9 847.87L1193.9 847.19L1194.9 847.37L1195.9 847.79L1196.9 848.46L1197.9 846.68L1198.9 847.8L1199.9 848.15L1200.9 847.68L1201.9 848.31L1202.9 848.02L1203.9 848.93L1204.9 848.25L1205.9 849.34L1206.9 847.62L1207.9 848.09L1208.9 848.24L1209.9 848.14L1210.9 848.89L1211.9 848.22L1212.9 848.25L1213.9 847.83L1214.9 848.69L1215.9 848.62L1216.9 848.43L1217.9 848.31L1218.9 848.4L1219.9 848.35L1220.9 848.08L1221.9 848.42L1222.9 848.41L1223.9 848.7L1224.9 849.39L1225.9 848.39L1226.9 848.92L1227.9 848.81L1228.9 849.42L1229.9 847.92L1230.9 848.15L1231.9 848.7L1232.9 848.05L1233.9 847.63L1234.9 846.86L1235.9 847.6L1236.9 847L1237.9 847.73L1238.9 847.19L1239.9 846.95L1240.9 847.22L1241.9 848.28L1242.9 848L1243.9 849.31L1244.9 849.69L1245.9 849.56L1246.9 848.89L1247.9 848.78L1248.9 848.64L1249.9 847.69L1250.9 845.38L1251.9 841.09L1252.9 836.86L1253.9 833.14L1254.9 830.47L1255.9 828.49L1256.9 826.44L1257.9 825.43L1258.9 826.01L1259.9 825.92L1260.9 826.55L1261.9 826.67L1262.9 826.03L1263.9 827.38L1264.9 827L1265.9 828.82L1266.9 829.97L1267.9 831.25L1268.9 833.31L1269.9 836.17L1270.9 838.25L1271.9 840.52L1272.9 842.74L1273.9 844.91L1274.9 846.34L1275.9 848.95L1276.9 849.43L1277.9 850.56L1278.9 852.63L1279.9 852.78L1280.9 853.74L1281.9 854.58L1282.9 854.07L1283.9 854.03L1284.9 854.72" fill="none" stroke="#1414e6" stroke-width="1.7" stroke-linejoin="round"/>
<path d="M1132.4 854.8L1132.4 854.4L1133.4 854.4L1133.4 854.05L1134.4 854.05L1134.4 852.62L1135.4 852.62L1135.4 854.8L1136.4 854.8L1136.4 849.3L1137.4 849.3L1137.4 851.03L1138.4 851.03L1138.4 852.28L1139.4 852.28L1139.4 847.02L1140.4 847.02L1140.4 848.56L1141.4 848.56L1141.4 849.19L1142.4 849.19L1142.4 845.41L1143.4 845.41L1143.4 842.77L1144.4 842.77L1144.4 842.5L1145.4 842.5L1145.4 844.2L1146.4 844.2L1146.4 836.65L1147.4 836.65L1147.4 834.38L1148.4 834.38L1148.4 830.51L1149.4 830.51L1149.4 823.94L1150.4 823.94L1150.4 812.41L1151.4 812.41L1151.4 801.83L1152.4 801.83L1152.4 786.08L1153.4 786.08L1153.4 758.2L1154.4 758.2L1154.4 734.53L1155.4 734.53L1155.4 706.21L1156.4 706.21L1156.4 674.09L1157.4 674.09L1157.4 640.55L1158.4 640.55L1158.4 605.64L1159.4 605.64L1159.4 578.63L1160.4 578.63L1160.4 552.93L1161.4 552.93L1161.4 541.13L1162.4 541.13L1162.4 542.41L1163.4 542.41L1163.4 554.36L1164.4 554.36L1164.4 577.16L1165.4 577.16L1165.4 608.13L1166.4 608.13L1166.4 642.32L1167.4 642.32L1167.4 679.18L1168.4 679.18L1168.4 713.61L1169.4 713.61L1169.4 746.66L1170.4 746.66L1170.4 775.62L1171.4 775.62L1171.4 796.3L1172.4 796.3L1172.4 812.91L1173.4 812.91L1173.4 824.51L1174.4 824.51L1174.4 826.64L1175.4 826.64L1175.4 838.76L1176.4 838.76L1176.4 843.42L1177.4 843.42L1177.4 845.28L1178.4 845.28L1178.4 835.67L1179.4 835.67L1179.4 840.5L1180.4 840.5L1180.4 850.39L1181.4 850.39L1181.4 843.5L1182.4 843.5L1182.4 844.58L1183.4 844.58L1183.4 848.44L1184.4 848.44L1184.4 845.27L1185.4 845.27L1185.4 849.71L1186.4 849.71L1186.4 841.37L1187.4 841.37L1187.4 848.81L1188.4 848.81L1188.4 850.24L1189.4 850.24L1189.4 844.24L1190.4 844.24L1190.4 848.67L1191.4 848.67L1191.4 848.2L1192.4 848.2L1192.4 846.11L1193.4 846.11L1193.4 848.02L1194.4 848.02L1194.4 848.56L1195.4 848.56L1195.4 848.46L1196.4 848.46L1196.4 846.51L1197.4 846.51L1197.4 846.3L1198.4 846.3L1198.4 848.91L1199.4 848.91L1199.4 845.43L1200.4 845.43L1200.4 849.57L1201.4 849.57L1201.4 846.14L1202.4 846.14L1202.4 851.08L1203.4 851.08L1203.4 847.69L1204.4 847.69L1204.4 843.83L1205.4 843.83L1205.4 847.92L1206.4 847.92L1206.4 845.84L1207.4 845.84L1207.4 846.2L1208.4 846.2L1208.4 847.7L1209.4 847.7L1209.4 848.64L1210.4 848.64L1210.4 849.58L1211.4 849.58L1211.4 849.42L1212.4 849.42L1212.4 846.26L1213.4 846.26L1213.4 848.15L1214.4 848.15L1214.4 850.02L1215.4 850.02L1215.4 850.07L1216.4 850.07L1216.4 847.66L1217.4 847.66L1217.4 847.9L1218.4 847.9L1218.4 846.37L1219.4 846.37L1219.4 843.37L1220.4 843.37L1220.4 846.33L1221.4 846.33L1221.4 847.27L1222.4 847.27L1222.4 847.01L1223.4 847.01L1223.4 849.81L1224.4 849.81L1224.4 845.81L1225.4 845.81L1225.4 845.38L1226.4 845.38L1226.4 848.34L1227.4 848.34L1227.4 850.65L1228.4 850.65L1228.4 845.78L1229.4 845.78L1229.4 847.53L1230.4 847.53L1230.4 848L1231.4 848L1231.4 848.78L1232.4 848.78L1232.4 846.43L1233.4 846.43L1233.4 846.03L1234.4 846.03L1234.4 846.86L1235.4 846.86L1235.4 847.09L1236.4 847.09L1236.4 847.89L1237.4 847.89L1237.4 846.85L1238.4 846.85L1238.4 844.4L1239.4 844.4L1239.4 841.67L1240.4 841.67L1240.4 845.33L1241.4 845.33L1241.4 846.19L1242.4 846.19L1242.4 847.65L1243.4 847.65L1243.4 843.6L1244.4 843.6L1244.4 848.37L1245.4 848.37L1245.4 848.29L1246.4 848.29L1246.4 850.58L1247.4 850.58L1247.4 848.52L1248.4 848.52L1248.4 846.96L1249.4 846.96L1249.4 848.1L1250.4 848.1L1250.4 844.49L1251.4 844.49L1251.4 838.74L1252.4 838.74L1252.4 836.65L1253.4 836.65L1253.4 832.08L1254.4 832.08L1254.4 835.38L1255.4 835.38L1255.4 824.32L1256.4 824.32L1256.4 827.2L1257.4 827.2L1257.4 828.59L1258.4 828.59L1258.4 828.4L1259.4 828.4L1259.4 830.34L1260.4 830.34L1260.4 820.67L1261.4 820.67L1261.4 820.21L1262.4 820.21L1262.4 820.36L1263.4 820.36L1263.4 826.06L1264.4 826.06L1264.4 827.31L1265.4 827.31L1265.4 826.32L1266.4 826.32L1266.4 832.8L1267.4 832.8L1267.4 831.13L1268.4 831.13L1268.4 826.73L1269.4 826.73L1269.4 829.58L1270.4 829.58L1270.4 838.19L1271.4 838.19L1271.4 843.22L1272.4 843.22L1272.4 843.22L1273.4 843.22L1273.4 842.97L1274.4 842.97L1274.4 846.2L1275.4 846.2L1275.4 851.55L1276.4 851.55L1276.4 849.96L1277.4 849.96L1277.4 847.86L1278.4 847.86L1278.4 852.71L1279.4 852.71L1279.4 850.12L1280.4 850.12L1280.4 844.43L1281.4 844.43L1281.4 846.35L1282.4 846.35L1282.4 854.09L1283.4 854.09L1283.4 854.33L1284.4 854.33L1284.4 854.49L1285.4 854.49L1285.4 854.6L1286.4 854.6L1286.4 854.8" fill="none" stroke="#000" stroke-width="1.0"/>
<line x1="1051.9" y1="854.8" x2="1406.9" y2="854.8" stroke="#000" stroke-width="2.1"/>
<path d="M1052 854.8V863.8M1069.5 854.8V858.4M1087 854.8V858.4M1104.5 854.8V858.4M1122 854.8V863.8M1139.5 854.8V858.4M1157 854.8V858.4M1174.5 854.8V858.4M1192 854.8V863.8M1209.5 854.8V858.4M1227 854.8V858.4M1244.5 854.8V858.4M1262 854.8V863.8M1279.5 854.8V858.4M1297 854.8V858.4M1314.5 854.8V858.4M1332 854.8V863.8M1349.5 854.8V858.4M1367 854.8V858.4M1384.5 854.8V858.4M1402 854.8V863.8" stroke="#1a1a1a" stroke-width="1.5" fill="none"/>
<path d="M1047.6 854.9H1051.9M1047.6 782.2H1051.9M1047.6 709.3H1051.9M1047.6 636.1H1051.9M1047.6 563.3H1051.9" stroke="#1a1a1a" stroke-width="1.3" fill="none"/>
<g clip-path="url(#cl5)" font-size="19.5" fill="#2a2a2a" text-anchor="middle"><text x="1053.5" y="892.2">0</text><text x="1123.84" y="892.2">200</text><text x="1194.18" y="892.2">400</text><text x="1264.52" y="892.2">600</text><text x="1334.86" y="892.2">800</text><text x="1405.2" y="892.2">1000</text></g>
<g font-size="19.5" fill="#2a2a2a" text-anchor="end"><text x="1050.1" y="863.5">0</text><text x="1050.1" y="790.8">100</text><text x="1050.1" y="717.9">200</text><text x="1050.1" y="644.7">300</text><text x="1050.1" y="571.9">400</text></g>
<text x="1237.4" y="913.4" font-size="19.5" letter-spacing="0.8" fill="#222" text-anchor="middle">PE-A</text>
<text transform="translate(1015.1 688.05) rotate(-90)" font-size="20.5" letter-spacing="0.55" fill="#222" text-anchor="middle"># Cells</text>
<text x="1236.5" y="967.6" font-size="36" font-weight="bold" fill="#000" text-anchor="middle">50 µM</text>
<path d="M409.6 1190.1V1178.5" stroke="#000" stroke-width="3.4"/>
<path d="M401.6 1178.5H417.6" stroke="#000" stroke-width="4.2"/>
<path d="M443 1315.9V1306.8" stroke="#000" stroke-width="3.4"/>
<path d="M435 1306.8H451" stroke="#000" stroke-width="4.2"/>
<path d="M476.4 1417.8V1405.8" stroke="#000" stroke-width="3.4"/>
<path d="M468.4 1405.8H484.4" stroke="#000" stroke-width="4.2"/>
<rect x="392.1" y="1190.1" width="33.4" height="327.4" fill="#fff" stroke="#000" stroke-width="3.6"/>
<rect x="425.5" y="1315.9" width="33.4" height="201.6" fill="#808080" stroke="#000" stroke-width="3.6"/>
<rect x="458.9" y="1417.8" width="33.4" height="99.7" fill="#000" stroke="#000" stroke-width="3.6"/>
<path d="M559 1194.2V1184.3" stroke="#000" stroke-width="3.4"/>
<path d="M551 1184.3H567" stroke="#000" stroke-width="4.2"/>
<path d="M592.4 1310.9V1296.7" stroke="#000" stroke-width="3.4"/>
<path d="M584.4 1296.7H600.4" stroke="#000" stroke-width="4.2"/>
<path d="M625.8 1421.5V1414.1" stroke="#000" stroke-width="3.4"/>
<path d="M617.8 1414.1H633.8" stroke="#000" stroke-width="4.2"/>
<rect x="541.5" y="1194.2" width="33.4" height="323.3" fill="#fff" stroke="#000" stroke-width="3.6"/>
<rect x="574.9" y="1310.9" width="33.4" height="206.6" fill="#808080" stroke="#000" stroke-width="3.6"/>
<rect x="608.3" y="1421.5" width="33.4" height="96" fill="#000" stroke="#000" stroke-width="3.6"/>
<path d="M708.4 1178.6V1173.1" stroke="#000" stroke-width="3.4"/>
<path d="M700.4 1173.1H716.4" stroke="#000" stroke-width="4.2"/>
<path d="M741.8 1327.4V1316.5" stroke="#000" stroke-width="3.4"/>
<path d="M733.8 1316.5H749.8" stroke="#000" stroke-width="4.2"/>
<path d="M775.2 1418.4V1413.6" stroke="#000" stroke-width="3.4"/>
<path d="M767.2 1413.6H783.2" stroke="#000" stroke-width="4.2"/>
<rect x="690.9" y="1178.6" width="33.4" height="338.9" fill="#fff" stroke="#000" stroke-width="3.6"/>
<rect x="724.3" y="1327.4" width="33.4" height="190.1" fill="#808080" stroke="#000" stroke-width="3.6"/>
<rect x="757.7" y="1418.4" width="33.4" height="99.1" fill="#000" stroke="#000" stroke-width="3.6"/>
<path d="M857.8 1133.1V1121.1" stroke="#000" stroke-width="3.4"/>
<path d="M849.8 1121.1H865.8" stroke="#000" stroke-width="4.2"/>
<path d="M891.2 1361V1344" stroke="#000" stroke-width="3.4"/>
<path d="M883.2 1344H899.2" stroke="#000" stroke-width="4.2"/>
<path d="M924.6 1429.5V1416.1" stroke="#000" stroke-width="3.4"/>
<path d="M916.6 1416.1H932.6" stroke="#000" stroke-width="4.2"/>
<rect x="840.3" y="1133.1" width="33.4" height="384.4" fill="#fff" stroke="#000" stroke-width="3.6"/>
<rect x="873.7" y="1361" width="33.4" height="156.5" fill="#808080" stroke="#000" stroke-width="3.6"/>
<rect x="907.1" y="1429.5" width="33.4" height="88" fill="#000" stroke="#000" stroke-width="3.6"/>
<path d="M1007.2 1102.6V1096" stroke="#000" stroke-width="3.4"/>
<path d="M999.2 1096H1015.2" stroke="#000" stroke-width="4.2"/>
<path d="M1040.6 1383.5V1380.3" stroke="#000" stroke-width="3.4"/>
<path d="M1032.6 1380.3H1048.6" stroke="#000" stroke-width="4.2"/>
<path d="M1074 1444.5V1440.2" stroke="#000" stroke-width="3.4"/>
<path d="M1066 1440.2H1082" stroke="#000" stroke-width="4.2"/>
<rect x="989.7" y="1102.6" width="33.4" height="414.9" fill="#fff" stroke="#000" stroke-width="3.6"/>
<rect x="1023.1" y="1383.5" width="33.4" height="134" fill="#808080" stroke="#000" stroke-width="3.6"/>
<rect x="1056.5" y="1444.5" width="33.4" height="73" fill="#000" stroke="#000" stroke-width="3.6"/>
<path d="M1156.6 1092.5V1085.4" stroke="#000" stroke-width="3.4"/>
<path d="M1148.6 1085.4H1164.6" stroke="#000" stroke-width="4.2"/>
<path d="M1190 1393.5V1381" stroke="#000" stroke-width="3.4"/>
<path d="M1182 1381H1198" stroke="#000" stroke-width="4.2"/>
<path d="M1223.4 1434.8V1429.5" stroke="#000" stroke-width="3.4"/>
<path d="M1215.4 1429.5H1231.4" stroke="#000" stroke-width="4.2"/>
<rect x="1139.1" y="1092.5" width="33.4" height="425" fill="#fff" stroke="#000" stroke-width="3.6"/>
<rect x="1172.5" y="1393.5" width="33.4" height="124" fill="#808080" stroke="#000" stroke-width="3.6"/>
<rect x="1205.9" y="1434.8" width="33.4" height="82.7" fill="#000" stroke="#000" stroke-width="3.6"/>
<path d="M367.5 1070.3V1519.4" stroke="#000" stroke-width="3.8"/>
<path d="M357.3 1517.5H367.5M357.3 1453.87H367.5M357.3 1390.24H367.5M357.3 1326.61H367.5M357.3 1262.99H367.5M357.3 1199.36H367.5M357.3 1135.73H367.5M357.3 1072.1H367.5" stroke="#000" stroke-width="3.6"/>
<path d="M365.6 1517.9H1265.8" stroke="#000" stroke-width="4"/>
<path d="M367.5 1517.5V1529.3M516.9 1517.5V1529.3M666.3 1517.5V1529.3M815.7 1517.5V1529.3M965.1 1517.5V1529.3M1114.5 1517.5V1529.3M1263.9 1517.5V1529.3" stroke="#000" stroke-width="3.6"/>
<g font-size="36" fill="#000" text-anchor="end"><text x="336.8" y="1530.1">0</text><text x="336.8" y="1466.47">10</text><text x="336.8" y="1402.84">20</text><text x="336.8" y="1339.21">30</text><text x="336.8" y="1275.59">40</text><text x="336.8" y="1211.96">50</text><text x="336.8" y="1148.33">60</text><text x="336.8" y="1084.7">70</text></g>
<g font-size="36" fill="#000" text-anchor="middle"><text x="442.2" y="1574.5">0</text><text x="591.6" y="1574.5">10</text><text x="741" y="1574.5">20</text><text x="890.4" y="1574.5">30</text><text x="1039.8" y="1574.5">40</text><text x="1189.2" y="1574.5">50</text></g>
<text x="808" y="1623.9" font-size="36" font-weight="bold" fill="#000" text-anchor="middle">EGCG (µM)</text>
<text transform="translate(257.3 1311.7) rotate(-90)" font-size="36.5" font-weight="bold" fill="#000" text-anchor="middle">Cell cycle phase (%)</text>
<rect x="422.4" y="1079.9" width="18" height="18" fill="#fff" stroke="#000" stroke-width="3.6" rx="1"/>
<rect x="542.5" y="1079.9" width="18" height="18" fill="#808080" stroke="#000" stroke-width="3.6" rx="1"/>
<rect x="636.8" y="1079.9" width="18" height="18" fill="#000" stroke="#000" stroke-width="3.6" rx="1"/>
<text x="448.8" y="1100.2" font-size="36" fill="#000">G1</text>
<text x="567.6" y="1100.2" font-size="36" fill="#000">S</text>
<text x="663.6" y="1100.6" font-size="36" letter-spacing="0.6" fill="#000">G2/M</text>
<g font-size="44" fill="#000" text-anchor="middle"><text x="857" y="1124.48">*</text><text x="889.4" y="1346.28">*</text><text x="1007.7" y="1091.18">**</text><text x="1041.6" y="1377.28">**</text><text x="1074" y="1445.48">*</text><text x="1154.8" y="1083.68">**</text><text x="1191.3" y="1379.08">**</text><text x="1222.6" y="1428.68">*</text></g>
</svg></body></html>
